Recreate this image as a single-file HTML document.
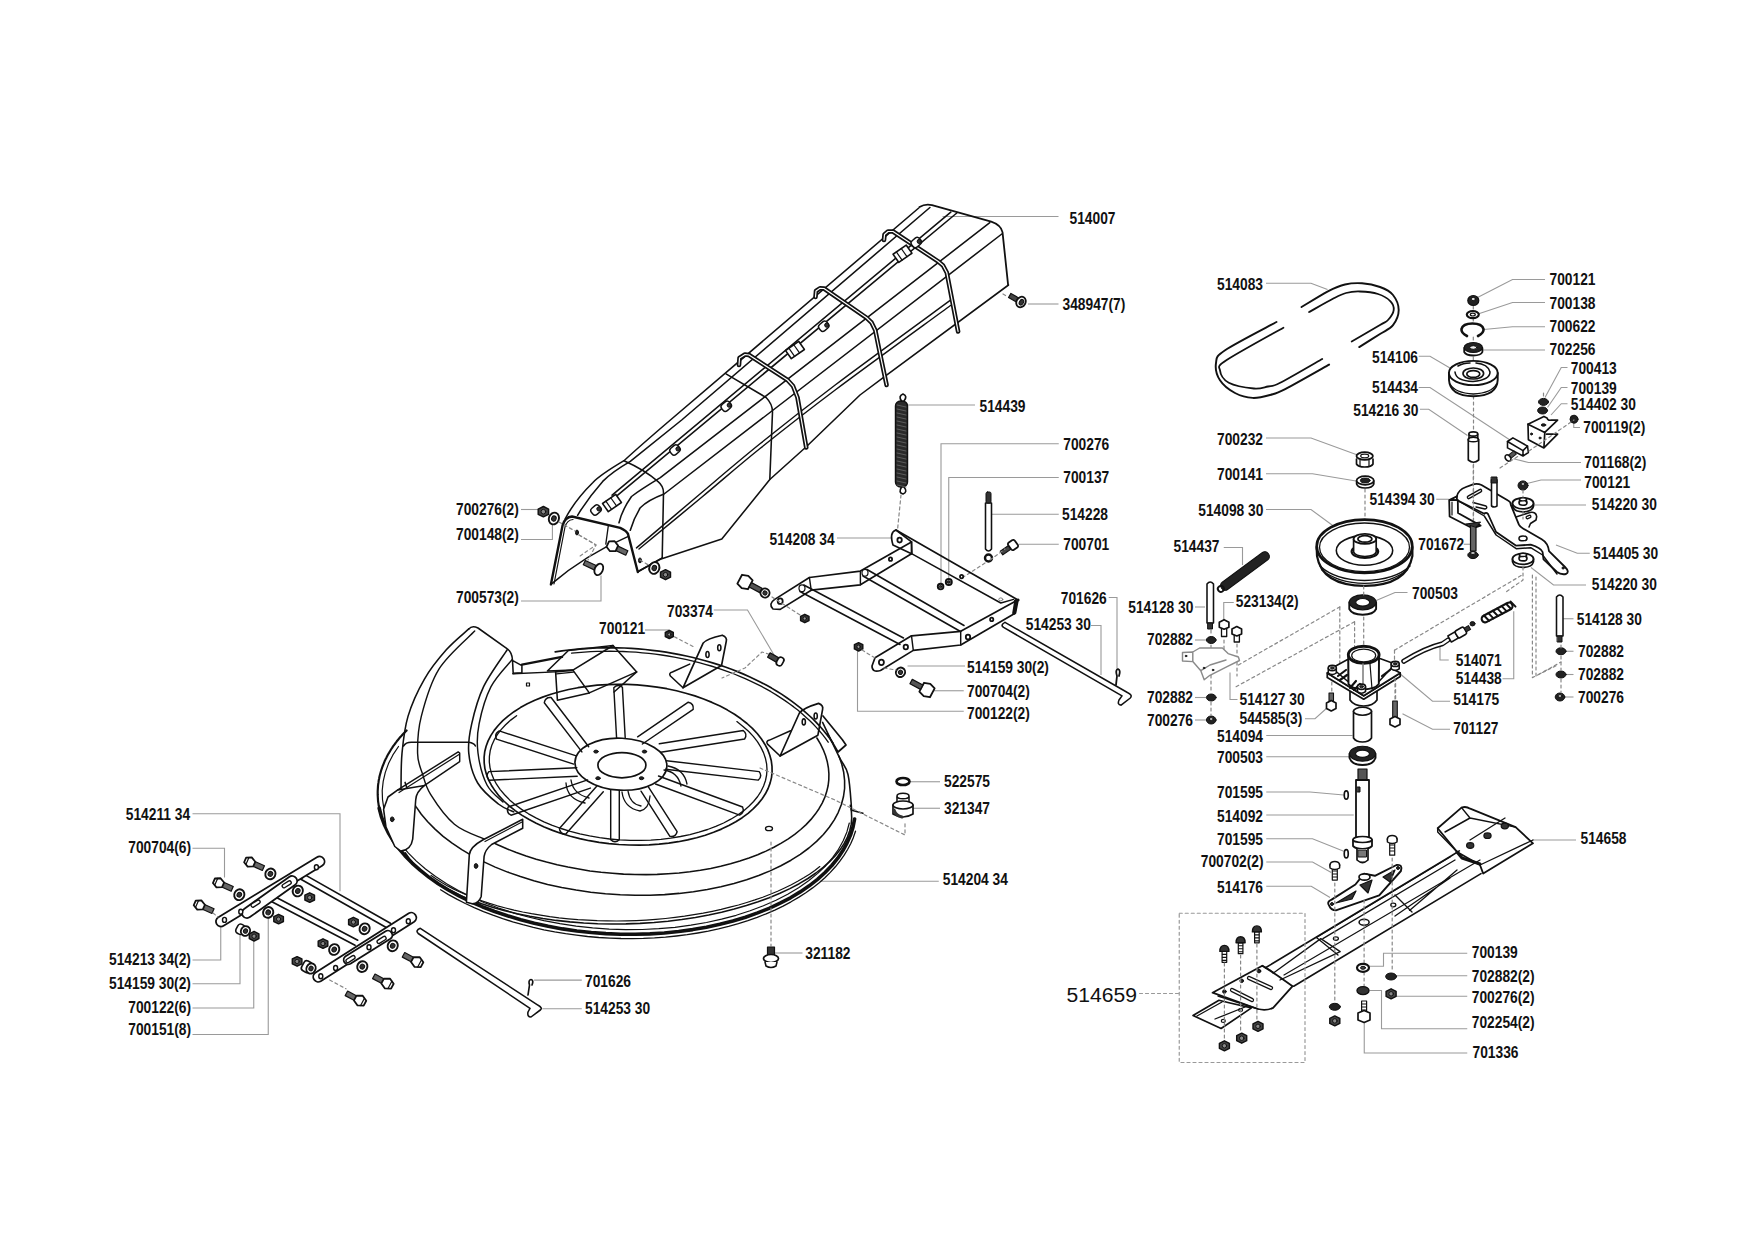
<!DOCTYPE html><html><head><meta charset="utf-8"><style>html,body{margin:0;padding:0;background:#fff;overflow:hidden}svg{display:block}</style></head><body>
<svg width="1755" height="1241" viewBox="0 0 1755 1241">
<rect width="1755" height="1241" fill="#fff"/>
<g fill="none" stroke="#9a9a9a" stroke-width="1.1">
<polyline points="1058.5,216.5 942.5,216.5"/>
<polyline points="1058.5,304 1028,304"/>
<polyline points="975,405 907.5,405"/>
<polyline points="1058.75,443.75 941,443.75 941,587.5"/>
<polyline points="1058.75,477.5 948.75,477.5 948.75,580"/>
<polyline points="1058.75,514.25 991,514.25"/>
<polyline points="1058.75,544.25 1018.75,544.25"/>
<polyline points="837,538 892.5,538"/>
<polyline points="521,509.5 538,509.5"/>
<polyline points="521,539.5 552.4,539.5 552.4,525"/>
<polyline points="521,601 601,601 601,575.4"/>
<polyline points="645,630 669.3,630"/>
<polyline points="713.75,610 747.5,610 776.25,658.75"/>
<polyline points="1108.75,597.5 1117,597.5 1117,670"/>
<polyline points="1091,625.5 1101,625.5 1101,675"/>
<polyline points="965,666 907.5,666"/>
<polyline points="963.75,690.75 933.75,690.75"/>
<polyline points="963.75,711.25 857.5,711.25 857.5,650"/>
<polyline points="940,781.75 910,781.75"/>
<polyline points="940,808.25 911.25,808.25"/>
<polyline points="938.75,881.25 820,881.25"/>
<polyline points="802.5,953 771.25,953"/>
<polyline points="192.5,813.75 340,813.75 340,891.25"/>
<polyline points="192.5,848.25 224.5,848.25 224.5,877.5"/>
<polyline points="192.5,960 220.75,960 220.75,927.5"/>
<polyline points="192.5,983.75 240,983.75 240,935"/>
<polyline points="192.5,1008 253.75,1008 253.75,938.75"/>
<polyline points="192.5,1034.5 268.25,1034.5 268.25,917.5"/>
<polyline points="1266,283.25 1311,283.25 1327.5,289.5"/>
<polyline points="1545,279.5 1512.5,279.5 1477.5,297.5"/>
<polyline points="1545,302.5 1512.5,302.5 1478.75,313.75"/>
<polyline points="1545,326.75 1512.5,326.75 1483.75,329.5"/>
<polyline points="1545,350 1482.5,350"/>
<polyline points="1418.75,356.25 1430,356.25 1451.25,368.75"/>
<polyline points="1567.5,367.5 1561.25,367.5 1545,397.5"/>
<polyline points="1567.5,387.5 1561.25,387.5 1547.5,407.5"/>
<polyline points="1567.5,403.75 1561.25,403.75 1551,415"/>
<polyline points="1580,427.5 1573.75,427.5 1573.75,420"/>
<polyline points="1418.75,387.5 1430,387.5 1510,440"/>
<polyline points="1420,409.25 1428.75,409.25 1467.5,435.5"/>
<polyline points="1266,438 1311,438 1357.5,455"/>
<polyline points="1266,473.75 1312.5,473.75 1357.5,481.25"/>
<polyline points="1436.25,499.25 1448.75,499.25"/>
<polyline points="1266,509.5 1311,509.5 1333.75,526.25"/>
<polyline points="1463.75,544.25 1470,544.25"/>
<polyline points="1223.75,547.5 1242.5,547.5 1242.5,565"/>
<polyline points="1581,462.5 1528.5,462.5 1513.5,458.75"/>
<polyline points="1581,480 1541,480 1526,483.75"/>
<polyline points="1586,505 1531,505"/>
<polyline points="1589.75,553.25 1577.25,553.25 1556,545"/>
<polyline points="1586,585 1553.5,585 1531,567.5"/>
<polyline points="1407.5,592.5 1395,592.5 1375,601"/>
<polyline points="1195,607 1205,607"/>
<polyline points="1233.75,602.5 1223.75,602.5 1223.75,620"/>
<polyline points="1573.5,618.75 1562.25,618.75"/>
<polyline points="1195,640 1206.25,640"/>
<polyline points="1573.5,651.25 1564.75,651.25"/>
<polyline points="1573.5,674.5 1564.75,674.5"/>
<polyline points="1573.5,697 1564.75,697"/>
<polyline points="1448.75,660 1440,660 1440,646.25 1435,646.25"/>
<polyline points="1502.5,678.75 1513.75,678.75 1513.75,611.25"/>
<polyline points="1237.5,699.5 1230,699.5 1230,672.5"/>
<polyline points="1450,701.25 1432.5,701.25 1400,673.75"/>
<polyline points="1195,697.5 1206.25,697.5"/>
<polyline points="1195,720 1206.25,720"/>
<polyline points="1305,718.75 1315,718.75 1327.5,707.5"/>
<polyline points="1450,729.25 1432.5,729.25 1402.5,713.75"/>
<polyline points="1266.25,735.5 1352.5,735.5"/>
<polyline points="1266.25,756.75 1350,756.75"/>
<polyline points="1266.25,792 1310,792 1343.75,795"/>
<polyline points="1266.25,815 1353.75,815"/>
<polyline points="1266.25,838.75 1312.5,838.75 1343.75,851.25"/>
<polyline points="1576,840 1532.25,840"/>
<polyline points="1266.25,862 1312.5,862 1331.25,872.5"/>
<polyline points="1266.25,886.25 1311.25,886.25 1330,897.5"/>
<polyline points="1467.25,953.25 1383.5,953.25 1383.5,966.25 1368.5,966.25"/>
<polyline points="1467.25,975.75 1396,975.75"/>
<polyline points="1467.25,996.25 1396,996.25"/>
<polyline points="1467.25,1028.75 1381.5,1028.75 1381.5,990.5 1369.75,990.5"/>
<polyline points="1467.25,1053 1364.25,1053 1364.25,1020"/>
<polyline points="581.8,980.1 534.1,980.1"/>
<polyline points="581.8,1008.8 542.3,1008.8"/>
</g>
<g stroke="#111" stroke-linecap="round" stroke-linejoin="round" fill="none"><path d="M919.5,207.1 Q925,203.5 932,205.1 L991.2,221.6 Q1001,225 1002.5,232.1 L1008.1,284.8" stroke-width="1.80" fill="none" />
<path d="M918.75,208 L670.4,420 Q640,446 624,460.7 Q600,475 592.7,482.7 Q575,500 565.1,519" stroke-width="1.56" fill="none" />
<path d="M929.9,207.5 L681.7,420 L630.3,461.4 Q612,472 602.7,481.4 Q588,498 577.6,515.3" stroke-width="1.56" fill="none" />
<path d="M950.8,212.2 L612.1,495.2" stroke-width="1.56" fill="none" />
<path d="M956.8,213 L617.7,495.2" stroke-width="1.56" fill="none" />
<path d="M989.8,222.7 L660.3,477.7 Q640,490 631.5,496.5 Q622,510 619,522.8" stroke-width="1.56" fill="none" />
<path d="M1001.8,234 L664.1,494 Q648,500 640.3,507.7 Q634,518 630.3,530.3" stroke-width="1.56" fill="none" />
<path d="M1008.5,285 L884.9,376.3 L860,395 L806,447 L769.8,479.5 L721.8,539.1 L660.3,559.2 L637.8,571.7" stroke-width="1.56" fill="none" />
<path d="M950.5,300.2 C931.3,314.3 867.0,361.1 835.2,385 C803.5,408.9 782.5,425.6 760,443.8 C737.5,462.0 720.6,476.6 700,494 C679.4,511.4 647.1,538.9 636.5,547.9" stroke-width="1.44" fill="none" />
<path d="M950.5,305.5 C931.3,319.6 867.0,366.2 835.2,390 C803.5,413.8 782.2,430.7 760,448.5 C737.8,466.3 722.2,480.2 702,497 C681.8,513.8 649.5,540.3 639,549" stroke-width="1.44" fill="none" />
<path d="M624,460.7 Q645,470 657.8,481.4 Q663.5,486 663.5,492.7 L662.2,558" stroke-width="1.56" fill="none" />
<path d="M726,373.8 L766.1,397.5 Q772.5,404 772.5,412 L769.8,479.5" stroke-width="1.56" fill="none" />
<path d="M884,240 L884.5,234.5 L888,231.5 L893,231.5 L938,261.3 L943,265.5 L946.8,272.6 L958.1,331.5" stroke="#111" stroke-width="4.56" fill="none" stroke-linejoin="round"/>
<path d="M884,240 L884.5,234.5 L888,231.5 L893,231.5 L938,261.3 L943,265.5 L946.8,272.6 L958.1,331.5" stroke="#fff" stroke-width="1.20" fill="none" stroke-linejoin="round"/>
<path d="M815.5,297 L816,291 L820,288.3 L824,288.5 L866.6,317.8 L871.5,322.5 L875.3,330.3 L879.1,349.1 L886.6,385" stroke="#111" stroke-width="4.56" fill="none" stroke-linejoin="round"/>
<path d="M815.5,297 L816,291 L820,288.3 L824,288.5 L866.6,317.8 L871.5,322.5 L875.3,330.3 L879.1,349.1 L886.6,385" stroke="#fff" stroke-width="1.20" fill="none" stroke-linejoin="round"/>
<path d="M739,365 L739.5,358 L745,354.5 L749,355 L787.5,380 L793,386 L797.5,397.5 L806.25,447.5" stroke="#111" stroke-width="4.56" fill="none" stroke-linejoin="round"/>
<path d="M739,365 L739.5,358 L745,354.5 L749,355 L787.5,380 L793,386 L797.5,397.5 L806.25,447.5" stroke="#fff" stroke-width="1.20" fill="none" stroke-linejoin="round"/>
<g transform="translate(916.25,242.5) rotate(-40)"><rect x="-5" y="-4" width="10" height="8" rx="3" fill="#fff" stroke="#111" stroke-width="1.44"/><circle cx="3" cy="1" r="2" fill="#333"/></g>
<g transform="translate(823.75,326.25) rotate(-40)"><rect x="-5" y="-4" width="10" height="8" rx="3" fill="#fff" stroke="#111" stroke-width="1.44"/><circle cx="3" cy="1" r="2" fill="#333"/></g>
<g transform="translate(726.25,406.25) rotate(-40)"><rect x="-5" y="-4" width="10" height="8" rx="3" fill="#fff" stroke="#111" stroke-width="1.44"/><circle cx="3" cy="1" r="2" fill="#333"/></g>
<g transform="translate(675,450) rotate(-40)"><rect x="-5" y="-4" width="10" height="8" rx="3" fill="#fff" stroke="#111" stroke-width="1.44"/><circle cx="3" cy="1" r="2" fill="#333"/></g>
<g transform="translate(596,510) rotate(-40)"><rect x="-5" y="-4" width="10" height="8" rx="3" fill="#fff" stroke="#111" stroke-width="1.44"/><circle cx="3" cy="1" r="2" fill="#333"/></g>
<g transform="translate(902.5,253.75) rotate(-35)"><rect x="-8" y="-5" width="16" height="10" fill="#fff" stroke="#111" stroke-width="1.56"/><path d="M-4,-5 L-4,5 M2,-5 L2,5" stroke="#111" stroke-width="1.20"/></g>
<g transform="translate(795,350) rotate(-35)"><rect x="-8" y="-5" width="16" height="10" fill="#fff" stroke="#111" stroke-width="1.56"/><path d="M-4,-5 L-4,5 M2,-5 L2,5" stroke="#111" stroke-width="1.20"/></g>
<g transform="translate(612,503) rotate(-35)"><rect x="-8" y="-5" width="16" height="10" fill="#fff" stroke="#111" stroke-width="1.56"/><path d="M-4,-5 L-4,5 M2,-5 L2,5" stroke="#111" stroke-width="1.20"/></g>
<path d="M550.9,584.4 L562.6,525.3 Q565,517 572,516.5 L620.2,527.8 Q627,531 628,534 L637.8,572" stroke-width="2.40" fill="none" />
<path d="M554,584 L565,527 Q567,520 573,519.5" stroke-width="1.20" fill="none" />
<path d="M550.9,584.4 Q585,555 627.8,536.6" stroke-width="1.56" fill="none" />
<path d="M608.3,525.9 L605.8,544.1" stroke-width="1.32" fill="none" />
<path d="M637.8,571.7 L662.2,557.9" stroke-width="1.56" fill="none" />
<ellipse cx="577" cy="532.5" rx="1.5" ry="2.5" fill="#222"/><ellipse cx="640" cy="560.4" rx="1.5" ry="2.5" fill="#222"/>
<path d="M579,535 L596,545 L588,560" stroke="#888" stroke-width="1.20" stroke-dasharray="3,3" fill="none"/>
<rect x="895.5" y="401" width="12" height="86" rx="5" fill="#2a2a2a" stroke="#111" stroke-width="1.44"/>
<path d="M901.5,401 Q898,396 903,394 Q908,396 904,401" stroke="#111" stroke-width="1.68" fill="none"/>
<path d="M901.5,487 Q898,493 903,494 Q908,492 904,487" stroke="#111" stroke-width="1.68" fill="none"/>
<path d="M897,405 L906,407" stroke="#666" stroke-width="0.84"/>
<path d="M897,409 L906,411" stroke="#666" stroke-width="0.84"/>
<path d="M897,413 L906,415" stroke="#666" stroke-width="0.84"/>
<path d="M897,417 L906,419" stroke="#666" stroke-width="0.84"/>
<path d="M897,421 L906,423" stroke="#666" stroke-width="0.84"/>
<path d="M897,425 L906,427" stroke="#666" stroke-width="0.84"/>
<path d="M897,429 L906,431" stroke="#666" stroke-width="0.84"/>
<path d="M897,433 L906,435" stroke="#666" stroke-width="0.84"/>
<path d="M897,437 L906,439" stroke="#666" stroke-width="0.84"/>
<path d="M897,441 L906,443" stroke="#666" stroke-width="0.84"/>
<path d="M897,445 L906,447" stroke="#666" stroke-width="0.84"/>
<path d="M897,449 L906,451" stroke="#666" stroke-width="0.84"/>
<path d="M897,453 L906,455" stroke="#666" stroke-width="0.84"/>
<path d="M897,457 L906,459" stroke="#666" stroke-width="0.84"/>
<path d="M897,461 L906,463" stroke="#666" stroke-width="0.84"/>
<path d="M897,465 L906,467" stroke="#666" stroke-width="0.84"/>
<path d="M897,469 L906,471" stroke="#666" stroke-width="0.84"/>
<path d="M897,473 L906,475" stroke="#666" stroke-width="0.84"/>
<path d="M897,477 L906,479" stroke="#666" stroke-width="0.84"/>
<path d="M897,481 L906,483" stroke="#666" stroke-width="0.84"/>
<path d="M897,485 L906,487" stroke="#666" stroke-width="0.84"/>
<path d="M901,495 L897.5,530" stroke="#888" stroke-width="1.20" stroke-dasharray="3,3" fill="none"/>
<path d="M985.5,503 L985.5,549 Q988.5,553 991.5,549 L991.5,503 Z" stroke-width="1.56" fill="none" />
<rect x="986" y="492" width="5" height="11" rx="1.5" fill="#333"/>
<circle cx="988.5" cy="558" r="3.5" stroke="#111" stroke-width="2.40" fill="none"/>
<g transform="translate(1013,545) rotate(-35)"><rect x="-14" y="-2.2" width="11" height="4.4" fill="#444" stroke="#111" stroke-width="1.20"/><rect x="-4" y="-4.5" width="8" height="9" rx="2" fill="#fff" stroke="#111" stroke-width="1.80"/></g>
<path d="M990,560 L1005,549" stroke="#888" stroke-width="1.20" stroke-dasharray="3,3" fill="none"/>
<path d="M985,563 L962,578" stroke="#888" stroke-width="1.20" stroke-dasharray="3,3" fill="none"/>
<path d="M896,530 L1018,600 L1015.5,613 L960.7,645 L913.3,650.4 L880.5,670.5 Q872,673 872,666 L875,657.7 L911.5,635.8 L960.7,631.3 L1015.4,601.2" stroke-width="1.68" fill="none" />
<path d="M896,530 Q889,532 893,545 L911.5,553.8 L911.5,541.9 L896,530" stroke-width="1.68" fill="none" />
<path d="M911.5,541.9 L912,553.8 L1000.8,603 L1013.6,599.4" stroke-width="1.44" fill="none" />
<path d="M911.5,541.9 L860.4,571.1 L809.4,577.5 L774.7,599.4 Q768,604 773,609 L780.2,609.4 L811.2,590.2 L860.4,584.8 L911.5,553.8" stroke-width="1.68" fill="none" />
<path d="M860.4,571.1 L860.4,584.8 M809.4,577.5 L811.2,590.2 M911.5,635.8 L913.3,650.4 M960.7,631.3 L960.7,645" stroke-width="1.44" fill="none" />
<path d="M1015.4,601.2 L1018,600" stroke-width="3.00" fill="none" />
<path d="M1016,601 L1014,613" stroke="#111" stroke-width="3.60"/>
<path d="M800,591.5 L900,644.5 M803.8,585 L903.5,638" stroke-width="1.56" fill="none" />
<path d="M863,576 L960.5,631.5 M867,569.5 L964,625.5" stroke-width="1.56" fill="none" />
<ellipse cx="802" cy="588.3" rx="3" ry="3.4" fill="#fff" stroke="#111" stroke-width="1.20"/>
<ellipse cx="865" cy="572.8" rx="3" ry="3.4" fill="#fff" stroke="#111" stroke-width="1.20"/>
<ellipse cx="899.6" cy="540.1" rx="2.2" ry="2.4200000000000004" fill="#fff" stroke="#111" stroke-width="1.80"/>
<ellipse cx="780.2" cy="601.2" rx="2.5" ry="2.75" fill="#fff" stroke="#111" stroke-width="1.80"/>
<ellipse cx="881.4" cy="662.3" rx="2.5" ry="2.75" fill="#fff" stroke="#111" stroke-width="1.80"/>
<ellipse cx="890.5" cy="559.2" rx="1.6" ry="1.7600000000000002" fill="#fff" stroke="#111" stroke-width="1.80"/>
<ellipse cx="991.7" cy="619.4" rx="1.6" ry="1.7600000000000002" fill="#fff" stroke="#111" stroke-width="1.80"/>
<ellipse cx="961.6" cy="576.6" rx="1.6" ry="1.7600000000000002" fill="#fff" stroke="#111" stroke-width="1.80"/>
<ellipse cx="905.8" cy="647" rx="2.2" ry="2.4200000000000004" fill="#fff" stroke="#111" stroke-width="1.80"/>
<ellipse cx="968" cy="637" rx="2.2" ry="2.4200000000000004" fill="#fff" stroke="#111" stroke-width="1.80"/>
<ellipse cx="1000.8" cy="599.4" rx="2" ry="1.5" fill="none" stroke="#777" stroke-width="0.96"/>
<g transform="translate(940.6,586.6) rotate(0)"><ellipse rx="2.8" ry="2.8" fill="#fff" stroke="#111" stroke-width="1.92"/><ellipse rx="1.26" ry="1.26" fill="#333"/></g>
<g transform="translate(948.8,582) rotate(0)"><ellipse rx="3" ry="3" fill="#fff" stroke="#111" stroke-width="1.92"/><ellipse rx="1.35" ry="1.35" fill="#333"/></g>
<g transform="translate(745,582) rotate(28)"><polygon points="-6,-5 0,-7 6,-5 6,5 0,7 -6,5" fill="#fff" stroke="#111" stroke-width="1.80"/><rect x="6" y="-2.5" width="12" height="5" fill="#555" stroke="#111" stroke-width="1.20"/></g>
<g transform="translate(765,593) rotate(28)"><ellipse rx="4.5" ry="4.5" fill="#fff" stroke="#111" stroke-width="1.92"/><ellipse rx="2.025" ry="2.025" fill="#333"/></g>
<g transform="translate(804.8,618.5)"><polygon points="-4.2,-2.1 0,-4.2 4.2,-2.1 4.2,2.1 0,4.2 -4.2,2.1" fill="#333" stroke="#111" stroke-width="1.44"/><circle r="1.6800000000000002" fill="#999"/></g>
<g transform="translate(858.6,646.8)"><polygon points="-4.2,-2.1 0,-4.2 4.2,-2.1 4.2,2.1 0,4.2 -4.2,2.1" fill="#333" stroke="#111" stroke-width="1.44"/><circle r="1.6800000000000002" fill="#999"/></g>
<path d="M772,597 L800,615" stroke="#888" stroke-width="1.20" stroke-dasharray="3,3" fill="none"/>
<path d="M862,650 L875,658" stroke="#888" stroke-width="1.20" stroke-dasharray="3,3" fill="none"/>
<g transform="translate(900.5,672.3) rotate(28)"><ellipse rx="4.5" ry="4.8" fill="#fff" stroke="#111" stroke-width="1.92"/><ellipse rx="2.025" ry="2.16" fill="#333"/></g>
<g transform="translate(927,690) rotate(208)"><polygon points="-6,-5 0,-7 6,-5 6,5 0,7 -6,5" fill="#fff" stroke="#111" stroke-width="1.80"/><rect x="6" y="-2.5" width="12" height="5" fill="#555" stroke="#111" stroke-width="1.20"/></g>
<path d="M884,668 L896,670" stroke="#888" stroke-width="1.20" stroke-dasharray="3,3" fill="none"/>
<path d="M1005,622.4 L1127.4,692.5 Q1133,695 1130.3,698 L1121.1,705.1 Q1117,705 1119,700 L1122,695.9 L1003.6,627.4 Q1000,625 1005,622.4" stroke-width="1.56" fill="none" />
<path d="M1116,684.8 L1117,676 Q1115,670 1118,669 Q1121,670 1119,676" stroke="#111" stroke-width="1.80" fill="none"/>
<path d="M854.6,819 L853,827.1 L850.5,835.1 L847.1,842.9 L842.9,850.6 L837.8,858.2 L831.8,865.5 L825.1,872.5 L817.5,879.3 L809.2,885.8 L800.2,891.9 L790.5,897.8 L780.1,903.2 L769.1,908.3 L757.6,912.9 L745.5,917.2 L732.9,921 L719.8,924.3 L706.4,927.2 L692.7,929.6 L678.6,931.5 L664.3,933 L649.9,933.9 L635.3,934.3 L620.6,934.2 L606,933.6 L591.3,932.5 L576.8,931 L562.4,928.9 L548.2,926.3 L534.3,923.3 L520.7,919.8 L507.4,915.8 L494.6,911.5 L482.2,906.7 L470.3,901.5 L459,895.9 L448.3,890 L438.2,883.7 L428.8,877.1 L420.1,870.2 L412.1,863.1 L404.9,855.7 L398.5,848.1 L392.9,840.4 L388.2,832.5 L384.3,824.5 L381.3,816.3 L379.2,808.2" stroke-width="3.60" fill="none" />
<path d="M380.3,812.8 L379.8,811 L379.4,809.2 L379.1,807.4 L378.7,805.6 L378.5,803.9 L378.2,802.1 L378,800.3 L377.9,798.5 L377.8,796.7 L377.7,794.9 L377.7,793.1 L377.7,791.3 L377.8,789.5 L377.9,787.7 L378,785.9 L378.2,784.1 L378.5,782.4 L378.7,780.6 L379.1,778.8 L379.4,777 L379.8,775.3 L380.3,773.5 L380.8,771.7 L381.3,770 L381.9,768.3 L382.5,766.5 L383.2,764.8 L383.9,763.1 L384.6,761.3 L385.4,759.6 L386.3,757.9 L387.1,756.2 L388,754.5 L389,752.9 L390,751.2 L391,749.5 L392.1,747.9 L393.2,746.2 L394.4,744.6 L395.6,743 L396.8,741.3 L398.1,739.7 L399.4,738.1 L400.8,736.6 L402.2,735 L403.6,733.4 L405.1,731.9 L406.6,730.4" stroke-width="2.16" fill="none" />
<path d="M855.5,831.2 L853.4,837.4 L850.8,843.5 L847.6,849.5 L844,855.4 L839.9,861.2 L835.4,866.8 L830.3,872.4 L824.9,877.7 L818.9,882.9 L812.6,887.9 L805.8,892.8 L798.6,897.4 L791,901.8 L783.1,906.1 L774.8,910.1 L766.1,913.8 L757.2,917.3 L747.9,920.6 L738.4,923.6 L728.6,926.4 L718.5,928.9 L708.3,931.1 L697.8,933 L687.2,934.7 L676.4,936 L665.5,937.1 L654.5,937.9 L643.4,938.4 L632.3,938.6 L621.1,938.5 L609.9,938.1 L598.8,937.5 L587.6,936.5 L576.5,935.2 L565.6,933.7 L554.7,931.9 L543.9,929.8 L533.3,927.4 L522.9,924.7 L512.7,921.8 L502.7,918.6 L492.9,915.2 L483.5,911.6 L474.2,907.6 L465.3,903.5 L456.8,899.2 L448.5,894.6 L440.6,889.8" stroke-width="1.32" fill="none" />
<path d="M849.3,823 L846.9,831.9 L843.2,840.7 L838.5,849.3 L832.6,857.6 L825.7,865.7 L817.7,873.4 L808.6,880.7 L798.6,887.7 L787.7,894.2 L776,900.3 L763.4,905.8 L750.1,910.8 L736.2,915.3 L721.6,919.2 L706.5,922.5 L690.9,925.2 L675,927.3 L658.8,928.7 L642.3,929.5 L625.8,929.6 L609.2,929.1 L592.6,927.9 L576.1,926.1 L559.9,923.7 L543.9,920.7 L528.3,917 L513.2,912.8 L498.5,908 L484.5,902.7 L471.1,896.9 L458.4,890.5 L446.6,883.8 L435.6,876.6 L425.5,869 L416.4,861.1 L408.2,852.9 L401.1,844.4 L395.1,835.7 L390.3,826.8 L386.5,817.8 L383.9,808.7 L382.5,799.6 L382.2,790.5 L383.2,781.4 L385.3,772.4 L388.5,763.6 L392.9,754.9 L398.5,746.5" stroke-width="1.20" fill="none" />
<path d="M822.6,722.4 C825.3,728.1 834.8,747.9 839,756.6 C843.2,765.3 845.9,765.5 848,774.5 C850.1,783.5 851.1,804.3 851.7,810.3" stroke-width="1.56" fill="none" />
<path d="M851.7,810.3 L862.9,813.3" stroke-width="1.56" fill="none" />
<path d="M555.2,651.9 L562,650.9 L568.8,650 L575.6,649.3 L582.5,648.7 L589.4,648.3 L596.4,648 L603.3,647.8 L610.3,647.7 L617.3,647.8 L624.3,648 L631.3,648.4 L638.3,648.9 L645.3,649.5 L652.2,650.3 L659.1,651.1 L666,652.2 L672.8,653.3 L679.6,654.6 L686.3,656 L693,657.5 L699.6,659.2 L706.2,661 L712.6,662.9 L719,664.9 L725.3,667 L731.5,669.3 L737.5,671.6 L743.5,674.1 L749.4,676.7 L755.1,679.4 L760.7,682.2 L766.2,685.1 L771.6,688.1 L776.8,691.2 L781.9,694.4 L786.8,697.7 L791.6,701.1 L796.2,704.6 L800.7,708.1 L805,711.8 L809.1,715.5 L813.1,719.2 L816.9,723.1 L820.5,727 L823.9,731 L827.1,735 L830.2,739.1 L833,743.2" stroke-width="1.68" fill="none" />
<path d="M571.6,653.2 L577.9,652.6 L584.3,652.1 L590.7,651.7 L597.2,651.4 L603.6,651.3 L610.1,651.2 L616.6,651.3 L623,651.5 L629.5,651.8 L636,652.2 L642.4,652.8 L648.9,653.4 L655.3,654.2 L661.6,655 L668,656 L674.3,657.1 L680.6,658.3 L686.8,659.7 L693,661.1 L699.1,662.6 L705.1,664.3 L711.1,666 L717,667.9 L722.8,669.8 L728.5,671.9 L734.2,674 L739.8,676.3 L745.2,678.6 L750.6,681.1 L755.8,683.6 L761,686.2 L766,688.9 L771,691.7 L775.8,694.6 L780.4,697.6 L785,700.6 L789.4,703.7 L793.7,706.9 L797.8,710.1 L801.8,713.5 L805.6,716.9 L809.3,720.3 L812.9,723.8 L816.3,727.4 L819.5,731 L822.6,734.7 L825.5,738.4 L828.2,742.2" stroke-width="1.32" fill="none" />
<path d="M823,716 L842.4,739.7 L846,745 L838,752 L827.5,733.8" stroke-width="1.68" fill="none" />
<path d="M850.3,805.2 L851.4,811.6 L851.7,818 L851.2,824.4 L849.7,830.7 L847.4,837.1 L844.2,843.4 L840.2,849.6 L835.3,855.7 L829.6,861.6 L823.2,867.4 L815.9,873 L807.9,878.5 L799.2,883.7 L789.9,888.6 L779.9,893.3 L769.2,897.7 L758.1,901.8 L746.4,905.6 L734.2,909.1 L721.6,912.3 L708.7,915.1 L695.4,917.5 L681.8,919.5 L668,921.2 L654.1,922.5 L640,923.4 L625.9,923.9 L611.8,924 L597.7,923.7 L583.7,923 L569.9,921.9 L556.2,920.4 L542.9,918.6 L529.8,916.3 L517.2,913.7 L504.9,910.8 L493.1,907.5 L481.8,903.8 L471.1,899.9 L460.9,895.6 L451.4,891 L442.6,886.2 L434.4,881.1 L427,875.8 L420.3,870.3 L414.5,864.6 L409.4,858.7 L405.2,852.7" stroke-width="1.56" fill="none" />
<path d="M819.8,866.6 L814.8,870.4 L809.5,874.2 L803.7,877.8 L797.7,881.3 L791.3,884.8 L784.6,888 L777.6,891.2 L770.3,894.3 L762.7,897.2 L754.9,899.9 L746.8,902.5 L738.5,905 L729.9,907.2 L721.2,909.4 L712.3,911.3 L703.2,913.1 L694,914.7 L684.6,916.2 L675.1,917.4 L665.5,918.5 L655.8,919.4 L646.1,920.1 L636.4,920.6 L626.6,920.9 L616.8,921 L607,920.9 L597.2,920.7 L587.6,920.2 L577.9,919.6 L568.4,918.8 L559,917.8 L549.7,916.6 L540.5,915.2 L531.5,913.7 L522.7,912 L514,910.1 L505.6,908 L497.4,905.8 L489.5,903.4 L481.8,900.8 L474.3,898.1 L467.2,895.3 L460.4,892.3 L453.8,889.1 L447.6,885.9 L441.7,882.5 L436.2,879 L431.1,875.4" stroke-width="1.20" fill="none" />
<path d="M838.9,756.1 L841.8,764.2 L843.7,772.3 L844.6,780.4 L844.6,788.5 L843.5,796.5 L841.4,804.5 L838.3,812.3 L834.3,819.9 L829.3,827.3 L823.4,834.5 L816.6,841.4 L808.9,848 L800.3,854.3 L791,860.2 L780.9,865.7 L770.1,870.9 L758.7,875.5 L746.6,879.8 L734,883.5 L720.9,886.8 L707.3,889.5 L693.4,891.7 L679.1,893.4 L664.6,894.6 L649.9,895.2 L635.1,895.3 L620.3,894.8 L605.4,893.8 L590.7,892.2 L576.1,890.1 L561.7,887.5 L547.6,884.4 L533.8,880.7 L520.4,876.6 L507.6,872.1 L495.2,867.1 L483.4,861.6 L472.3,855.8 L461.8,849.6 L452.1,843.1 L443.1,836.3 L435,829.1 L427.7,821.8 L421.3,814.2 L415.8,806.4 L411.3,798.5 L407.7,790.5 L405.1,782.4" stroke-width="1.56" fill="none" />
<path d="M816.9,738 L820.4,743.9 L823.3,749.8 L825.6,755.8 L827.3,761.8 L828.4,767.8 L828.9,773.9 L828.8,779.8 L828.1,785.8 L826.7,791.6 L824.8,797.4 L822.2,803.1 L819,808.7 L815.3,814.1 L811,819.4 L806.1,824.6 L800.7,829.5 L794.7,834.3 L788.3,838.8 L781.3,843.1 L773.9,847.2 L766,851.1 L757.7,854.7 L749,858 L739.9,861 L730.5,863.8 L720.7,866.2 L710.7,868.4 L700.4,870.2 L689.9,871.7 L679.1,873 L668.2,873.8 L657.2,874.4 L646,874.6 L634.8,874.5 L623.5,874.1 L612.3,873.3 L601.1,872.3 L589.9,870.9 L578.8,869.1 L567.9,867.1 L557.1,864.8 L546.5,862.1 L536.2,859.2 L526.1,856 L516.3,852.5 L506.8,848.8 L497.6,844.8 L488.9,840.5" stroke-width="1.56" fill="none" />
<path d="M772.1,772 L771.5,777.6 L770.1,783.1 L768.1,788.5 L765.4,793.8 L762,799 L758,803.9 L753.4,808.7 L748.1,813.3 L742.2,817.7 L735.8,821.8 L728.9,825.6 L721.4,829.1 L713.6,832.3 L705.3,835.2 L696.6,837.7 L687.6,839.9 L678.3,841.7 L668.7,843.1 L659,844.2 L649.1,844.8 L639.1,845.1 L629.1,845 L619,844.5 L609,843.6 L599.1,842.3 L589.3,840.7 L579.7,838.6 L570.4,836.2 L561.3,833.5 L552.6,830.4 L544.2,827 L536.2,823.3 L528.7,819.3 L521.7,815.1 L515.2,810.6 L509.2,805.9 L503.8,801 L499,795.9 L494.9,790.6 L491.4,785.2 L488.5,779.8 L486.4,774.2 L484.9,768.6 L484.2,763 L484.1,757.4 L484.7,751.8 L486.1,746.3 L488.1,740.9 L490.8,735.6 L494.2,730.4 L498.2,725.5 L502.8,720.7 L508.1,716.1 L514,711.7 L520.4,707.6 L527.3,703.8 L534.8,700.3 L542.6,697.1 L550.9,694.2 L559.6,691.7 L568.6,689.5 L577.9,687.7 L587.5,686.3 L597.2,685.2 L607.1,684.6 L617.1,684.3 L627.1,684.4 L637.2,684.9 L647.2,685.8 L657.1,687.1 L666.9,688.7 L676.5,690.8 L685.8,693.2 L694.9,695.9 L703.6,699 L712,702.4 L720,706.1 L727.5,710.1 L734.5,714.3 L741,718.8 L747,723.5 L752.4,728.4 L757.2,733.5 L761.3,738.8 L764.8,744.2 L767.7,749.6 L769.8,755.2 L771.3,760.8 L772,766.4 L772.1,772" stroke-width="1.68" fill="none" />
<path d="M736.9,721.6 L743,726.4 L748.5,731.3 L753.3,736.4 L757.4,741.7 L760.8,747.1 L763.5,752.6 L765.4,758.2 L766.6,763.8 L767,769.4 L766.6,775 L765.5,780.5 L763.6,786 L761,791.3 L757.7,796.5 L753.6,801.5 L748.9,806.3 L743.5,810.9 L737.4,815.2 L730.8,819.2 L723.6,823 L715.8,826.4 L707.6,829.5 L698.9,832.2 L689.9,834.6 L680.5,836.5 L670.8,838.1 L660.9,839.3 L650.8,840.1 L640.6,840.4 L630.3,840.3 L620,839.9 L609.8,839 L599.6,837.6 L589.6,835.9 L579.9,833.8 L570.3,831.4 L561.1,828.5 L552.3,825.3 L543.9,821.8 L535.9,817.9 L528.5,813.8 L521.6,809.4 L515.3,804.7 L509.6,799.9 L504.6,794.8 L500.2,789.6 L496.5,784.2 L493.6,778.7 L491.4,773.2 L490,767.6 L489.3,762 L489.4,756.4 L490.2,750.8 L491.8,745.3 L494.2,739.9 L497.3,734.7 L501.1,729.6 L505.6,724.8 L510.7,720.1 L516.6,715.7" stroke-width="1.32" fill="none" />
<ellipse cx="620.9" cy="764.2" rx="46" ry="26" fill="#fff" stroke="#111" stroke-width="1.68" transform="rotate(2.8 620.9 764.2)"/>
<ellipse cx="621.9" cy="765.2" rx="24" ry="12.6" fill="#fff" stroke="#111" stroke-width="1.68"/>
<ellipse cx="596" cy="751.6" rx="2.2" ry="1.5" fill="#222"/>
<ellipse cx="644.5" cy="751.6" rx="2.2" ry="1.5" fill="#222"/>
<ellipse cx="598" cy="778.2" rx="2.2" ry="1.5" fill="#222"/>
<ellipse cx="641.5" cy="778.2" rx="2.2" ry="1.5" fill="#222"/>
<path d="M581.9,751.9 L544.3,702.7 Q545.3,696.9 551.1,697.5 L588.7,746.7" stroke-width="1.44" fill="none" />
<path d="M573.7,764.1 L496.5,739.1 Q494.0,733.7 499.2,730.9 L576.3,755.9" stroke-width="1.44" fill="none" />
<path d="M577.2,776.3 L489.2,780.2 Q485.0,776.1 488.8,771.6 L576.8,767.7" stroke-width="1.44" fill="none" />
<path d="M590.4,788.1 L511.0,815.2 Q505.8,812.4 508.2,807.0 L587.6,779.9" stroke-width="1.44" fill="none" />
<path d="M603.3,791.7 L565.8,834.1 Q559.9,834.3 559.4,828.4 L596.9,786.1" stroke-width="1.44" fill="none" />
<path d="M619.3,790.5 L619.3,839.7 Q615.0,843.7 610.7,839.7 L610.7,790.5" stroke-width="1.44" fill="none" />
<path d="M648.2,786.6 L677.1,831.7 Q675.6,837.4 669.9,836.4 L641.0,791.2" stroke-width="1.44" fill="none" />
<path d="M658.5,776.0 L742.6,807.0 Q744.8,812.5 739.6,815.1 L655.5,784.0" stroke-width="1.44" fill="none" />
<path d="M666.5,760.7 L759.2,771.6 Q762.7,776.3 758.2,780.1 L665.5,769.3" stroke-width="1.44" fill="none" />
<path d="M659.3,743.8 L743.2,730.5 Q747.9,734.1 744.6,739.0 L660.7,752.2" stroke-width="1.44" fill="none" />
<path d="M637.6,736.8 L688.3,702.2 Q694.1,703.5 693.2,709.3 L642.4,744.0" stroke-width="1.44" fill="none" />
<path d="M616.6,738.2 L613.8,687.7 Q617.9,683.5 622.4,687.3 L625.2,737.8" stroke-width="1.44" fill="none" />
<path d="M566,783 Q567,799 585,803 M571,780 Q573,794 589,798 M622,792 Q624,808 640,811 Q649,809 650,796 M628,791 Q630,804 641,806 M668,766 Q684,769 687,784 M664,770 Q678,772 681,786" fill="none" stroke="#111" stroke-width="1.32"/>
<path d="M468.8,628.9 C465.1,632.4 453.9,641.2 446.5,649.6 C439.1,658.0 430.7,668.2 424.3,679.3 C417.9,690.4 411.7,704.0 408,716.4 C404.3,728.8 403.2,741.1 402,753.4 C400.8,765.7 401.2,783.9 401,790" stroke-width="1.56" fill="none" />
<path d="M474.7,631.1 C468.8,637.4 448.0,654.7 439.1,668.9 C430.2,683.1 424.9,702.3 421.3,716.4 C417.7,730.5 417.4,743.9 417.6,753.4 C417.8,762.9 420.2,766.7 422.4,773.5 C424.6,780.3 425.3,785.9 430.6,794.4 C435.9,802.9 445.4,816.8 454.4,824.2 C463.3,831.7 479.3,836.6 484.3,839.1" stroke-width="1.44" fill="none" />
<path d="M507.3,649.6 C503.4,655.8 489.5,674.3 483.6,686.7 C477.7,699.1 474.2,712.7 471.7,723.8 C469.2,734.9 467.8,743.5 468.8,753.4 C469.8,763.3 472.8,774.6 477.7,783 C482.6,791.4 492.4,799.2 498.4,804 C504.4,808.8 511.2,810.6 513.8,811.9" stroke-width="1.56" fill="none" />
<path d="M511.8,660 C508.3,664.5 496.4,676.1 491,686.7 C485.6,697.3 481.3,712.8 479.1,723.8 C476.9,734.8 476.7,742.8 478,753 C479.3,763.2 482.8,776.8 487,785 C491.2,793.2 500.3,799.2 503,802" stroke-width="1.44" fill="none" />
<path d="M468.8,628.9 Q472,625 478,628 L507.3,648.9 Q512,652 512.5,660 L513.2,673.4 L521.9,672.8 L521.9,665.6 L511.9,660.1" stroke-width="1.56" fill="none" />
<path d="M521.9,664.6 L562,656.9" stroke-width="2.40" fill="none" />
<path d="M512.8,673.8 L555.6,671.9" stroke-width="1.44" fill="none" />
<rect x="526.5" y="683" width="3" height="3" fill="none" stroke="#111" stroke-width="1.20"/>
<path d="M547.4,671 L568.4,650.5 L613,645.5 L636.7,671.9 L589.3,692.9 L572.9,670.1 Z" stroke-width="1.56" fill="none" />
<path d="M613,645.5 L572.9,670.1 M555.6,671.9 L572.9,670.1 M557.4,700.2 L589.3,692.9 M555.6,671.9 L557.4,700.2 M636.7,671.9 L614,692" stroke-width="1.56" fill="none" />
<path d="M556.5,673.9 L573.5,672.1" stroke-width="1.20" fill="none" />
<path d="M403.5,746 Q406,742 412,742.3 L468.8,742.3 Q474,743 475.4,746" stroke-width="1.56" fill="none" />
<path d="M397.8,789.9 L424.6,785.4 Q416,792 415.7,800 L412.7,839.1 Q411,850 400.8,851 L394.8,846.5 L386,827 L383.6,809.3 L388,797 Z" fill="#fff" stroke="#111" stroke-width="1.56"/>
<path d="M397.8,789.9 L458.2,751.9 L459.7,753 L459.7,761.6 L424.6,785.4" stroke-width="1.44" fill="none" />
<path d="M399,792.5 L459,754.5" stroke-width="1.20" fill="none" />
<ellipse cx="392.2" cy="819.3" rx="1.8" ry="2.4" fill="#222"/>
<path d="M482.7,840 L522.7,819.3 L522.7,828.2 L491.6,844.5 Q485,850 484.1,856.4 L481.2,896.4 Q479,903 472.3,903.8 L466.4,902.3 L469.3,854.9 Q470,847 482.7,840 Z" fill="#fff" stroke="#111" stroke-width="1.56"/>
<path d="M485,841.5 L522,822" stroke-width="1.20" fill="none" />
<ellipse cx="476" cy="866" rx="1.8" ry="2.4" fill="#222"/>
<path d="M683,687.8 L703,643.3 Q707,638.3 722.3,635.2 Q727.3,637.2 726.3,641.2 L721.5,665.6 Z" stroke-width="1.68" fill="none" />
<path d="M683,687.8 L670.4,676 Q668.4,673 672.4,672 L689.7,664.1" stroke-width="1.56" fill="none" />
<ellipse cx="707.5" cy="654.5" rx="1.6" ry="3" fill="#fff" stroke="#111" stroke-width="1.56"/><ellipse cx="719.3" cy="647.8" rx="1.6" ry="3" fill="#fff" stroke="#111" stroke-width="1.56"/>
<path d="M780.1,756 L799.4,713 Q803.4,708 818.6,703.4 Q823.6,705.4 822.6,709.4 L817.9,735.2 Z" stroke-width="1.68" fill="none" />
<path d="M780.1,756 L767.5,744.1 Q765.5,741.1 769.5,740.1 L790.5,730.8" stroke-width="1.56" fill="none" />
<ellipse cx="803.8" cy="721.9" rx="1.6" ry="3" fill="#fff" stroke="#111" stroke-width="1.56"/><ellipse cx="815.7" cy="716" rx="1.6" ry="3" fill="#fff" stroke="#111" stroke-width="1.56"/>
<ellipse cx="769" cy="828.5" rx="3.5" ry="2.2" fill="none" stroke="#111" stroke-width="1.32"/>
<path d="M771,842 L771,946" stroke="#888" stroke-width="1.20" stroke-dasharray="3,3" fill="none"/>
<path d="M760,768 L835,800 L905,835 L905,822" stroke="#888" stroke-width="1.20" stroke-dasharray="3,3" fill="none"/>
<path d="M669,634 L694,647" stroke="#888" stroke-width="1.20" stroke-dasharray="3,3" fill="none"/>
<path d="M775,656 L762,652 L745,668 L722,678" stroke="#888" stroke-width="1.20" stroke-dasharray="3,3" fill="none"/>
<g><rect x="767.5" y="947" width="7" height="9" fill="#333" stroke="#111" stroke-width="1.20"/><ellipse cx="771" cy="958.5" rx="7.5" ry="4" fill="#fff" stroke="#111" stroke-width="1.68"/><path d="M765,962 L766,966 Q771,969 776,966 L777,962" fill="#fff" stroke="#111" stroke-width="1.56"/></g>
<ellipse cx="903" cy="781.5" rx="6.5" ry="3.5" fill="none" stroke="#111" stroke-width="2.64"/>
<g><path d="M897,797 L897,804 M909,797 L909,804" stroke="#111" stroke-width="1.56"/><ellipse cx="903" cy="796" rx="6" ry="2.8" fill="#fff" stroke="#111" stroke-width="1.56"/><path d="M893,805 L893,814 Q903,820 913,814 L913,805" fill="#fff" stroke="#111" stroke-width="1.68"/><ellipse cx="903" cy="805" rx="10" ry="4" fill="#fff" stroke="#111" stroke-width="1.56"/><path d="M894,810 Q896,816 902,817" stroke="#333" stroke-width="3.00"/></g>
<g transform="translate(669.3,634.5)"><polygon points="-4,-2.0 0,-4 4,-2.0 4,2.0 0,4 -4,2.0" fill="#333" stroke="#111" stroke-width="1.44"/><circle r="1.6" fill="#999"/></g>
<g transform="translate(781,662) rotate(30)"><rect x="-14" y="-2.5" width="10" height="5" fill="#444" stroke="#111" stroke-width="1.20"/><rect x="-4" y="-4.5" width="6" height="9" rx="3" fill="#fff" stroke="#111" stroke-width="1.68"/></g>
<path d="M266.151,898.667 L355.051,945.367" stroke-width="1.68" fill="none" />
<path d="M268.849,893.533 L357.749,940.233" stroke-width="1.68" fill="none" />
<ellipse cx="267.5" cy="896.1" rx="3.2" ry="3.2" fill="#fff" stroke="#111" stroke-width="1.56"/>
<path d="M298.67,877.923 L387.57,928.323" stroke-width="1.68" fill="none" />
<path d="M301.53,872.877 L390.43,923.277" stroke-width="1.68" fill="none" />
<ellipse cx="300.1" cy="875.4" rx="3.2" ry="3.2" fill="#fff" stroke="#111" stroke-width="1.56"/>
<path d="M223.6,925.8 L322.1,865.8 A5.0,5.0 0 0 0 316.9,857.2 L218.4,917.2 A5.0,5.0 0 0 0 223.6,925.8 Z" fill="#fff" stroke="#111" stroke-width="1.80"/>
<path d="M249.9,917.1 L294.9,885.1 A5.0,5.0 0 0 0 289.1,876.9 L244.1,908.9 A5.0,5.0 0 0 0 249.9,917.1 Z" fill="#fff" stroke="#111" stroke-width="1.80"/>
<path d="M320.7,981.2 L414.2,921.7 A5.0,5.0 0 0 0 408.8,913.3 L315.3,972.8 A5.0,5.0 0 0 0 320.7,981.2 Z" fill="#fff" stroke="#111" stroke-width="1.80"/>
<path d="M350.4,963.8 L390.4,938.8 A4.5,4.5 0 0 0 385.6,931.2 L345.6,956.2 A4.5,4.5 0 0 0 350.4,963.8 Z" fill="#fff" stroke="#111" stroke-width="1.80"/>
<ellipse cx="224.5" cy="919.9" rx="2" ry="2.5" fill="#fff" stroke="#111" stroke-width="1.44"/>
<ellipse cx="316.4" cy="867.2" rx="2" ry="2.5" fill="#fff" stroke="#111" stroke-width="1.44"/>
<ellipse cx="320.8" cy="976.2" rx="2" ry="2.5" fill="#fff" stroke="#111" stroke-width="1.44"/>
<ellipse cx="408.3" cy="921.3" rx="2" ry="2.5" fill="#fff" stroke="#111" stroke-width="1.44"/>
<ellipse cx="240.8" cy="911.7" rx="2" ry="2.5" fill="#fff" stroke="#111" stroke-width="1.44"/>
<ellipse cx="335.6" cy="968" rx="2" ry="2.5" fill="#fff" stroke="#111" stroke-width="1.44"/>
<ellipse cx="369" cy="947.3" rx="2" ry="2.5" fill="#fff" stroke="#111" stroke-width="1.44"/>
<ellipse cx="393.5" cy="930.2" rx="2" ry="2.5" fill="#fff" stroke="#111" stroke-width="1.44"/>
<g transform="translate(286.7,884.3) rotate(-32)"><rect x="-5" y="-1.8" width="10" height="3.6" rx="1.8" fill="#fff" stroke="#111" stroke-width="1.32"/></g>
<g transform="translate(255.6,903.6) rotate(-32)"><rect x="-5" y="-1.8" width="10" height="3.6" rx="1.8" fill="#fff" stroke="#111" stroke-width="1.32"/></g>
<g transform="translate(350.5,959.1) rotate(-32)"><rect x="-5" y="-1.8" width="10" height="3.6" rx="1.8" fill="#fff" stroke="#111" stroke-width="1.32"/></g>
<g transform="translate(381.6,939.9) rotate(-32)"><rect x="-5" y="-1.8" width="10" height="3.6" rx="1.8" fill="#fff" stroke="#111" stroke-width="1.32"/></g>
<g transform="translate(199.3,905) rotate(24)"><rect x="4" y="-2.6" width="11" height="5.2" fill="#666" stroke="#111" stroke-width="1.20"/><polygon points="-5,-2.5 0,-5 5,-2.5 5,2.5 0,5 -5,2.5" fill="#fff" stroke="#111" stroke-width="1.80"/><path d="M-2.5,-3.75 L-2.5,3.75" stroke="#111" stroke-width="1.20"/></g>
<g transform="translate(218.5,882.8) rotate(24)"><rect x="4" y="-2.6" width="11" height="5.2" fill="#666" stroke="#111" stroke-width="1.20"/><polygon points="-5,-2.5 0,-5 5,-2.5 5,2.5 0,5 -5,2.5" fill="#fff" stroke="#111" stroke-width="1.80"/><path d="M-2.5,-3.75 L-2.5,3.75" stroke="#111" stroke-width="1.20"/></g>
<g transform="translate(249.7,862) rotate(24)"><rect x="4" y="-2.6" width="11" height="5.2" fill="#666" stroke="#111" stroke-width="1.20"/><polygon points="-5,-2.5 0,-5 5,-2.5 5,2.5 0,5 -5,2.5" fill="#fff" stroke="#111" stroke-width="1.80"/><path d="M-2.5,-3.75 L-2.5,3.75" stroke="#111" stroke-width="1.20"/></g>
<g transform="translate(239.3,894.7) rotate(28)"><ellipse rx="5" ry="5.5" fill="#fff" stroke="#111" stroke-width="1.92"/><ellipse rx="2.25" ry="2.475" fill="#333"/></g>
<g transform="translate(270.4,873.9) rotate(28)"><ellipse rx="5" ry="5.5" fill="#fff" stroke="#111" stroke-width="1.92"/><ellipse rx="2.25" ry="2.475" fill="#333"/></g>
<g transform="translate(268.2,912.4) rotate(28)"><ellipse rx="5" ry="5.5" fill="#fff" stroke="#111" stroke-width="1.92"/><ellipse rx="2.25" ry="2.475" fill="#333"/></g>
<g transform="translate(297.8,891) rotate(28)"><ellipse rx="5" ry="5.5" fill="#fff" stroke="#111" stroke-width="1.92"/><ellipse rx="2.25" ry="2.475" fill="#333"/></g>
<g transform="translate(364.6,928.8) rotate(28)"><ellipse rx="5" ry="5.5" fill="#fff" stroke="#111" stroke-width="1.92"/><ellipse rx="2.25" ry="2.475" fill="#333"/></g>
<g transform="translate(334.2,949.5) rotate(28)"><ellipse rx="5" ry="5.5" fill="#fff" stroke="#111" stroke-width="1.92"/><ellipse rx="2.25" ry="2.475" fill="#333"/></g>
<g transform="translate(392.7,945.8) rotate(28)"><ellipse rx="5" ry="5.5" fill="#fff" stroke="#111" stroke-width="1.92"/><ellipse rx="2.25" ry="2.475" fill="#333"/></g>
<g transform="translate(362.3,966.6) rotate(28)"><ellipse rx="5" ry="5.5" fill="#fff" stroke="#111" stroke-width="1.92"/><ellipse rx="2.25" ry="2.475" fill="#333"/></g>
<g transform="translate(242.3,930.2) rotate(28)"><rect x="-6" y="-5" width="8" height="10" rx="3" fill="#fff" stroke="#111" stroke-width="1.56"/></g>
<g transform="translate(245.5,931) rotate(28)"><ellipse rx="4.5" ry="5" fill="#fff" stroke="#111" stroke-width="1.92"/><ellipse rx="2.025" ry="2.25" fill="#333"/></g>
<g transform="translate(308.2,967.3) rotate(28)"><rect x="-6" y="-5.5" width="9" height="11" rx="3" fill="#fff" stroke="#111" stroke-width="1.68"/></g>
<g transform="translate(311,968.5) rotate(28)"><ellipse rx="4.5" ry="5.2" fill="#fff" stroke="#111" stroke-width="1.92"/><ellipse rx="2.025" ry="2.3400000000000003" fill="#333"/></g>
<g transform="translate(254.1,936.2)"><polygon points="-4.8,-2.4 0,-4.8 4.8,-2.4 4.8,2.4 0,4.8 -4.8,2.4" fill="#444" stroke="#111" stroke-width="1.44"/><circle r="2.16" fill="#888"/></g>
<g transform="translate(278.6,919.1)"><polygon points="-4.8,-2.4 0,-4.8 4.8,-2.4 4.8,2.4 0,4.8 -4.8,2.4" fill="#444" stroke="#111" stroke-width="1.44"/><circle r="2.16" fill="#888"/></g>
<g transform="translate(309.7,897.6)"><polygon points="-4.8,-2.4 0,-4.8 4.8,-2.4 4.8,2.4 0,4.8 -4.8,2.4" fill="#444" stroke="#111" stroke-width="1.44"/><circle r="2.16" fill="#888"/></g>
<g transform="translate(353.4,922.1)"><polygon points="-4.8,-2.4 0,-4.8 4.8,-2.4 4.8,2.4 0,4.8 -4.8,2.4" fill="#444" stroke="#111" stroke-width="1.44"/><circle r="2.16" fill="#888"/></g>
<g transform="translate(323,943.6)"><polygon points="-4.8,-2.4 0,-4.8 4.8,-2.4 4.8,2.4 0,4.8 -4.8,2.4" fill="#444" stroke="#111" stroke-width="1.44"/><circle r="2.16" fill="#888"/></g>
<g transform="translate(297.1,961.4)"><polygon points="-4.8,-2.4 0,-4.8 4.8,-2.4 4.8,2.4 0,4.8 -4.8,2.4" fill="#444" stroke="#111" stroke-width="1.44"/><circle r="2.16" fill="#888"/></g>
<g transform="translate(417.2,962.1) rotate(208)"><rect x="4.5" y="-2.6" width="11" height="5.2" fill="#666" stroke="#111" stroke-width="1.20"/><polygon points="-5.5,-2.75 0,-5.5 5.5,-2.75 5.5,2.75 0,5.5 -5.5,2.75" fill="#fff" stroke="#111" stroke-width="1.80"/><path d="M-2.75,-4.125 L-2.75,4.125" stroke="#111" stroke-width="1.20"/></g>
<g transform="translate(387.5,983.6) rotate(208)"><rect x="4.5" y="-2.6" width="11" height="5.2" fill="#666" stroke="#111" stroke-width="1.20"/><polygon points="-5.5,-2.75 0,-5.5 5.5,-2.75 5.5,2.75 0,5.5 -5.5,2.75" fill="#fff" stroke="#111" stroke-width="1.80"/><path d="M-2.75,-4.125 L-2.75,4.125" stroke="#111" stroke-width="1.20"/></g>
<g transform="translate(360.1,1000.6) rotate(208)"><rect x="4.5" y="-2.6" width="11" height="5.2" fill="#666" stroke="#111" stroke-width="1.20"/><polygon points="-5.5,-2.75 0,-5.5 5.5,-2.75 5.5,2.75 0,5.5 -5.5,2.75" fill="#fff" stroke="#111" stroke-width="1.80"/><path d="M-2.75,-4.125 L-2.75,4.125" stroke="#111" stroke-width="1.20"/></g>
<path d="M329.7,980 L346,988.8" stroke="#888" stroke-width="1.20" stroke-dasharray="3,3" fill="none"/>
<path d="M213,913 L218,917" stroke="#888" stroke-width="1.20" stroke-dasharray="3,3" fill="none"/>
<path d="M420.3,928.3 L538.2,1005.3 Q543,1008 540.3,1010 L531,1017 Q527,1017 528,1012 L530,1008.3 L418.2,933.5 Q415,930.5 420.3,928.3" stroke-width="1.56" fill="none" />
<path d="M528,995 L529.5,985 Q528,980 531,979.5 Q534,980 532,985" stroke="#111" stroke-width="1.68" fill="none"/>
<path d="M1301.5,307 C1305.9,304.4 1320.7,295.1 1327.9,291.3 C1335.2,287.6 1339.3,285.8 1345,284.5 C1350.7,283.2 1356.2,282.9 1362,283.3 C1367.8,283.7 1374.8,285.1 1380,287 C1385.2,288.9 1389.9,291.1 1393,295 C1396.1,298.9 1398.7,305.1 1398.7,310.1 C1398.7,315.1 1396.1,321.2 1393,325.2 C1389.9,329.2 1385.6,330.4 1380,334 C1374.4,337.6 1362.7,344.9 1359.2,347.1" stroke-width="1.92" fill="none" />
<path d="M1276.5,322 C1267.9,326.7 1235.2,343.4 1225.1,350.2 C1215.0,357.0 1216.8,358.0 1216,363 C1215.2,368.0 1216.8,375.3 1220,380.3 C1223.2,385.3 1229.5,390.1 1235,393 C1240.5,395.9 1246.9,397.6 1252.7,397.9 C1258.5,398.2 1264.6,396.5 1270,395 C1275.4,393.5 1275.4,394.2 1285.2,389.1 C1295.0,384.0 1321.8,368.7 1329.1,364.6" stroke-width="1.92" fill="none" />
<path d="M1309.1,312 C1313.1,309.8 1326.8,302.0 1332.9,298.8 C1339.1,295.6 1341.5,294.2 1346,293 C1350.5,291.8 1354.7,291.3 1360,291.5 C1365.3,291.7 1372.9,292.4 1378,294 C1383.1,295.6 1387.9,298.6 1390.5,301.3 C1393.1,304.0 1394.1,307.0 1393.7,310.1 C1393.3,313.2 1390.3,317.5 1388,320 C1385.7,322.5 1386.0,321.4 1380,325 C1374.0,328.6 1356.4,338.8 1351.7,341.5" stroke-width="1.80" fill="none" />
<path d="M1283.4,327.7 C1273.9,333.1 1236.9,353.2 1226.3,360.3 C1215.7,367.4 1219.6,366.6 1220,370.3 C1220.4,374.1 1223.1,379.8 1228.8,382.8 C1234.5,385.8 1247.4,387.9 1253.9,388.5 C1260.4,389.1 1263.6,387.4 1268,386.5 C1272.4,385.6 1271.2,387.4 1280.2,382.8 C1289.2,378.2 1315.2,363.0 1322.2,359" stroke-width="1.80" fill="none" />
<path d="M1473.3,306 L1473.3,322" stroke="#888" stroke-width="1.20" stroke-dasharray="3,3" fill="none"/>
<path d="M1473.3,337 L1473.3,342" stroke="#888" stroke-width="1.20" stroke-dasharray="3,3" fill="none"/>
<path d="M1473.3,357 L1473.3,362" stroke="#888" stroke-width="1.20" stroke-dasharray="3,3" fill="none"/>
<path d="M1473.5,396 L1473.5,430" stroke="#888" stroke-width="1.20" stroke-dasharray="3,3" fill="none"/>
<path d="M1473.5,464 L1473.5,540" stroke="#888" stroke-width="1.20" stroke-dasharray="3,3" fill="none"/>
<path d="M1365,489 L1365,520" stroke="#888" stroke-width="1.20" stroke-dasharray="3,3" fill="none"/>
<ellipse cx="1473.3" cy="300.5" rx="5.5" ry="5" fill="#222" stroke="#111" stroke-width="1.20"/><ellipse cx="1473.3" cy="299" rx="2.2" ry="1.6" fill="#ddd"/>
<ellipse cx="1472.8" cy="314.6" rx="6" ry="3.6" fill="#fff" stroke="#111" stroke-width="2.16"/><ellipse cx="1472.8" cy="314.6" rx="2.5" ry="1.4" fill="none" stroke="#111" stroke-width="1.20"/>
<path d="M1467,336 Q1461,333 1461.5,329 Q1463,323.5 1472.4,323.5 Q1482,323.5 1483.5,329 Q1484,333 1478,336" fill="none" stroke="#111" stroke-width="2.64"/>
<path d="M1464.2,348 L1464.2,352 Q1466,355.5 1473.3,355.5 Q1481,355.5 1482.4,352 L1482.4,348" fill="#fff" stroke="#111" stroke-width="1.80"/><ellipse cx="1473.3" cy="347.5" rx="9.1" ry="5" fill="#222" stroke="#111" stroke-width="1.20"/><ellipse cx="1473.3" cy="347.5" rx="3.5" ry="1.8" fill="#eee"/>
<path d="M1449,373 L1449,380 Q1450,396 1473.3,396.2 Q1497,396 1497.7,380 L1497.7,373" fill="#fff" stroke="#111" stroke-width="1.92"/>
<path d="M1450,384 Q1455,393 1473.3,394 Q1492,393 1496.5,384" fill="none" stroke="#111" stroke-width="1.44"/>
<ellipse cx="1473.3" cy="373" rx="24.4" ry="12.1" fill="#fff" stroke="#111" stroke-width="1.92"/>
<path d="M1458,366 Q1463,363 1470,363 M1476,363 Q1488,364 1490,372 Q1490,380 1473,381.5 Q1456,381 1455,372" fill="none" stroke="#111" stroke-width="1.56"/>
<ellipse cx="1473.3" cy="373.5" rx="10.3" ry="5.5" fill="#fff" stroke="#111" stroke-width="1.68"/><ellipse cx="1473.3" cy="374" rx="6.5" ry="3.4" fill="#fff" stroke="#111" stroke-width="1.68"/>
<path d="M1468.3,439.7 L1468.3,460 Q1473.5,464.5 1478.7,460 L1478.7,439.7" fill="#fff" stroke="#111" stroke-width="1.68"/><ellipse cx="1473.3" cy="439.5" rx="5.2" ry="2.3" fill="#fff" stroke="#111" stroke-width="1.44"/><path d="M1469,439 L1469,434 M1477.8,439 L1477.8,434" stroke="#111" stroke-width="1.56"/><ellipse cx="1473.3" cy="434" rx="4.4" ry="2.1" fill="#fff" stroke="#111" stroke-width="1.56"/>
<path d="M1507.5,441.5 L1512.9,437.9 L1527.5,446.1 L1523,450.6 Z" fill="#fff" stroke="#111" stroke-width="1.56"/><path d="M1507.5,441.5 L1507.5,447.9 L1523,456 L1528.4,452.5 L1527.5,446.1 M1523,450.6 L1523,456" fill="none" stroke="#111" stroke-width="1.56"/>
<g transform="translate(1508,458) rotate(-38)"><rect x="0" y="-2" width="9" height="4" fill="#555" stroke="#111" stroke-width="0.96"/><ellipse cx="0" cy="0" rx="2.5" ry="3.5" fill="#fff" stroke="#111" stroke-width="1.56"/></g>
<path d="M1528,424.2 L1543.9,416.4 L1547,418 Q1548,421 1551,420 L1557.6,420.1 L1544.8,432.4 Z" fill="#fff" stroke="#111" stroke-width="1.68"/><path d="M1528,424.2 L1528.4,439.7 L1543.9,447.9 L1544.8,432.4 M1543.9,447.9 L1557.6,434.2 L1546.6,434.2" fill="none" stroke="#111" stroke-width="1.68"/>
<ellipse cx="1543.5" cy="425" rx="2.2" ry="1.2" fill="#222"/><circle cx="1531.5" cy="434" r="1" fill="#222"/><circle cx="1540" cy="438" r="1" fill="#222"/>
<ellipse cx="1543.5" cy="401.9" rx="5" ry="3.5" fill="#222"/><ellipse cx="1542.6" cy="410.5" rx="5" ry="3.5" fill="#222"/><circle cx="1574" cy="419.2" r="4" fill="#222"/>
<path d="M1500,468 L1520,455" stroke="#888" stroke-width="1.20" stroke-dasharray="3,3" fill="none"/>
<path d="M1529,451 L1574,420" stroke="#888" stroke-width="1.20" stroke-dasharray="3,3" fill="none"/>
<path d="M1543.5,393 L1543.5,398" stroke="#888" stroke-width="1.20" stroke-dasharray="3,3" fill="none"/>
<path d="M1456.9,496.4 Q1458,490 1466,487 L1472.4,484.6 Q1477,483 1481.5,485 L1508,500.5 Q1511,502 1510.7,504.6 L1518.9,524.7 Q1520,527 1523,528.5 L1541.7,539.3 Q1548,543 1549,551.1 L1565,567 Q1570,572 1566,574 Q1561,575 1557,572 L1543.5,559.3 L1542.6,552 Q1541,548 1530.7,544.7 L1516.2,545.7 L1496.1,532 L1488,514 Q1486,512 1484.3,513.8 L1456.9,500.1 Z" stroke-width="1.80" fill="none" />
<path d="M1516,517 L1530,512.5 Q1536,511.5 1536.7,516.5 L1536,520 L1530.5,523.5 L1529,527" stroke-width="1.56" fill="none" />
<g transform="translate(1528.5,517) rotate(-25)"><rect x="-2.5" y="-1.2" width="5" height="2.4" rx="1.2" fill="none" stroke="#111" stroke-width="1.32"/></g>
<path d="M1457,500 L1484.3,516 L1496.1,535 L1516.2,548.7 L1530.7,547.7 L1542.6,555 L1557,574" stroke-width="1.44" fill="none" />
<g transform="translate(1474.5,494) rotate(-30)"><rect x="-8" y="-1.3" width="16" height="2.6" rx="1.3" fill="none" stroke="#111" stroke-width="1.44"/></g>
<path d="M1473,502.5 L1486,506 Q1488,508 1485,509 L1476,507" stroke-width="1.44" fill="none" />
<ellipse cx="1523" cy="538.4" rx="4" ry="2.4" fill="none" stroke="#111" stroke-width="1.56"/><circle cx="1563.1" cy="568" r="1.1" fill="#222"/>
<path d="M1449.2,500.1 L1449.6,516.5 L1472.4,528.3 L1480.6,525.6 L1458,513 L1457.8,500 Z M1449.2,500.1 L1456.9,496.4" stroke-width="1.80" fill="none" />
<path d="M1452,502 L1452,515" stroke-width="1.20" fill="none" />
<path d="M1491.5,480 L1491.5,506 Q1494.2,508 1497,506 L1497,480 Q1494.2,476 1491.5,480 Z" fill="#fff" stroke="#111" stroke-width="1.56"/><rect x="1491.5" y="477" width="5.5" height="6" fill="#333"/>
<path d="M1512.5,503.3 L1512.5,506.3 Q1514,511.8 1523,511.8 Q1532,511.8 1533.5,506.3 L1533.5,503.3" fill="#fff" stroke="#111" stroke-width="1.68"/><ellipse cx="1523" cy="503.3" rx="10.5" ry="5.5" fill="#fff" stroke="#111" stroke-width="1.80"/><ellipse cx="1523" cy="502.8" rx="4" ry="2.5" fill="#fff" stroke="#111" stroke-width="1.56"/><path d="M1519.5,502.3 L1519.5,499.3 M1526.5,502.3 L1526.5,499.3" stroke="#111" stroke-width="1.44"/><ellipse cx="1523" cy="499.3" rx="3.5" ry="1.6" fill="#fff" stroke="#111" stroke-width="1.44"/>
<path d="M1512.5,558.9 L1512.5,561.9 Q1514,567.4 1523,567.4 Q1532,567.4 1533.5,561.9 L1533.5,558.9" fill="#fff" stroke="#111" stroke-width="1.68"/><ellipse cx="1523" cy="558.9" rx="10.5" ry="5.5" fill="#fff" stroke="#111" stroke-width="1.80"/><ellipse cx="1523" cy="558.4" rx="4" ry="2.5" fill="#fff" stroke="#111" stroke-width="1.56"/><path d="M1519.5,557.9 L1519.5,554.9 M1526.5,557.9 L1526.5,554.9" stroke="#111" stroke-width="1.44"/><ellipse cx="1523" cy="554.9" rx="3.5" ry="1.6" fill="#fff" stroke="#111" stroke-width="1.44"/>
<ellipse cx="1523" cy="485.5" rx="5" ry="4.6" fill="#222"/><ellipse cx="1523" cy="484" rx="2" ry="1.4" fill="#ccc"/>
<path d="M1523,490 L1523,497" stroke="#888" stroke-width="1.20" stroke-dasharray="3,3" fill="none"/>
<path d="M1523,511 L1523,519" stroke="#888" stroke-width="1.20" stroke-dasharray="3,3" fill="none"/>
<path d="M1523,567 L1523,580 L1506,592" stroke="#888" stroke-width="1.20" stroke-dasharray="3,3" fill="none"/>
<g><rect x="1470.5" y="524" width="5.5" height="27" fill="#666" stroke="#111" stroke-width="1.20"/><ellipse cx="1473" cy="555" rx="5.2" ry="3.6" fill="#222"/><ellipse cx="1473" cy="553" rx="2.5" ry="1.5" fill="#ccc"/></g>
<path d="M1466,524 L1480.6,522 L1476,527 Z" fill="#333"/>
<path d="M1473.3,465 L1473.3,520" stroke="#888" stroke-width="1.20" stroke-dasharray="3,3" fill="none"/>
<path d="M1356.5,459 L1356.5,464 Q1358,467 1364.7,467 Q1371.5,467 1373,464 L1373,459" fill="#fff" stroke="#111" stroke-width="1.68"/><ellipse cx="1364.7" cy="456" rx="8.2" ry="3.8" fill="#fff" stroke="#111" stroke-width="1.80"/><ellipse cx="1364.7" cy="456" rx="4" ry="1.8" fill="none" stroke="#111" stroke-width="1.20"/><path d="M1360,460 L1360,466 M1369,460 L1369,466" stroke="#111" stroke-width="1.20"/>
<path d="M1356.6,481 L1356.6,484 Q1358,488 1365.2,488 Q1372.5,488 1373.8,484 L1373.8,481" fill="#fff" stroke="#111" stroke-width="1.68"/><ellipse cx="1365.2" cy="480.5" rx="8.6" ry="4.3" fill="#fff" stroke="#111" stroke-width="1.80"/><ellipse cx="1365.2" cy="480.5" rx="4.8" ry="2.4" fill="#222"/>
<path d="M1316.6,547 L1317,556 Q1322,585.6 1364.5,585.8 Q1407,585.6 1412.4,556 L1412.4,547" fill="#fff" stroke="#111" stroke-width="2.16"/>
<path d="M1320,566 Q1335,580 1364.5,580.5 Q1395,580 1410,566" fill="none" stroke="#111" stroke-width="1.56"/><path d="M1322,570 Q1338,583 1364.5,583.4 Q1391,583 1407,570" fill="none" stroke="#111" stroke-width="1.20"/>
<ellipse cx="1364.5" cy="546.3" rx="47.8" ry="26.7" fill="#fff" stroke="#111" stroke-width="2.64"/><ellipse cx="1364.5" cy="547.3" rx="45" ry="24.3" fill="none" stroke="#111" stroke-width="1.32"/>
<ellipse cx="1364.5" cy="550.4" rx="28.2" ry="14.8" fill="none" stroke="#111" stroke-width="1.56"/>
<ellipse cx="1364.9" cy="551.5" rx="13.3" ry="6.5" fill="#fff" stroke="#111" stroke-width="2.16"/><path d="M1353.6,539 L1353.6,552 Q1355,556 1364.9,556.5 Q1375,556 1376.2,552 L1376.2,539" fill="#fff" stroke="#111" stroke-width="1.68"/><ellipse cx="1364.9" cy="538.9" rx="11.3" ry="5" fill="#fff" stroke="#111" stroke-width="1.80"/><ellipse cx="1364.9" cy="538.9" rx="7" ry="3.3" fill="#fff" stroke="#111" stroke-width="1.80"/>
<path d="M1349.3,602.3 L1349.3,609 Q1352,614.7 1362.7,614.7 Q1373.5,614.7 1376.1,609 L1376.1,602.3" fill="#fff" stroke="#111" stroke-width="1.92"/><ellipse cx="1362.7" cy="602.3" rx="13.4" ry="7.5" fill="#222" stroke="#111" stroke-width="1.20"/><ellipse cx="1362.7" cy="602.3" rx="7" ry="3.8" fill="#fff" stroke="#111" stroke-width="1.20"/>
<path d="M1363.7,586 L1363.7,596" stroke="#888" stroke-width="1.20" stroke-dasharray="3,3" fill="none"/>
<path d="M1363.7,617 L1363.7,646" stroke="#888" stroke-width="1.20" stroke-dasharray="3,3" fill="none"/>
<path d="M1354.6,621.7 L1354.6,650" stroke="#888" stroke-width="1.20" stroke-dasharray="3,3" fill="none"/>
<path d="M1339.8,606.9 L1339.8,662.7" stroke="#888" stroke-width="1.20" stroke-dasharray="3,3" fill="none"/>
<path d="M1236.1,686.7 L1354.6,621.7" stroke="#888" stroke-width="1.20" stroke-dasharray="3,3" fill="none"/>
<path d="M1238.4,665 L1339.8,606.9" stroke="#888" stroke-width="1.20" stroke-dasharray="3,3" fill="none"/>
<path d="M1394.5,650.2 L1522.1,575" stroke="#888" stroke-width="1.20" stroke-dasharray="3,3" fill="none"/>
<path d="M1394.5,650.2 L1394.5,665" stroke="#888" stroke-width="1.20" stroke-dasharray="3,3" fill="none"/>
<path d="M1395.6,677.6 L1395.6,700" stroke="#888" stroke-width="1.20" stroke-dasharray="3,3" fill="none"/>
<path d="M1331.8,682 L1331.8,693" stroke="#888" stroke-width="1.20" stroke-dasharray="3,3" fill="none"/>
<path d="M1532.4,575 L1532.4,677.6 L1557.5,665" stroke="#888" stroke-width="1.20" stroke-dasharray="3,3" fill="none"/>
<path d="M1350,690 L1350,700 Q1354,706 1363.7,706 Q1373,706 1377,700 L1377,690 Z" fill="#fff" stroke="#111" stroke-width="1.68"/>
<path d="M1327.3,673 L1327.3,677.6 L1363.7,699.2 L1400.2,676.4 L1400.2,673 L1363.7,695.8 Z" fill="#fff" stroke="#111" stroke-width="1.80"/>
<path d="M1327.3,673 L1363.7,652.5 L1400.2,673 L1363.7,695.8 Z" fill="#fff" stroke="#111" stroke-width="1.80"/>
<path d="M1332,668 L1348.5,659 L1348.5,682 Z M1395,664 L1378.5,658 L1378.5,682 Z" fill="#fff" stroke="#111" stroke-width="1.56"/>
<path d="M1348.3,655 L1348.5,684 Q1352,689 1363.7,689.5 Q1375,689 1378.8,684 L1379,655" fill="#fff" stroke="#111" stroke-width="1.92"/><ellipse cx="1363.7" cy="654.8" rx="15.4" ry="8.6" fill="#fff" stroke="#111" stroke-width="2.88"/><ellipse cx="1363.7" cy="655.5" rx="12" ry="6.3" fill="none" stroke="#111" stroke-width="1.20"/>
<path d="M1363,664 L1363,689" stroke="#888" stroke-width="1.68"/><path d="M1370,664 L1372,689" stroke="#111" stroke-width="1.20"/>
<path d="M1338,676 L1346,670 M1340,680 L1347,675 M1350,688 L1356,681 M1354,690 L1360,684 M1382,676 L1390,670" stroke="#111" stroke-width="2.16"/>
<path d="M1328.3,668 L1328.3,673 Q1332.3,676 1336.3,673 L1336.3,668" fill="#fff" stroke="#111" stroke-width="1.56"/><ellipse cx="1332.3" cy="668" rx="4" ry="2.6" fill="#fff" stroke="#111" stroke-width="1.68"/><ellipse cx="1332.3" cy="668" rx="1.8" ry="1.1" fill="#333"/>
<path d="M1391.2,663.9 L1391.2,668.9 Q1395.2,671.9 1399.2,668.9 L1399.2,663.9" fill="#fff" stroke="#111" stroke-width="1.56"/><ellipse cx="1395.2" cy="663.9" rx="4" ry="2.6" fill="#fff" stroke="#111" stroke-width="1.68"/><ellipse cx="1395.2" cy="663.9" rx="1.8" ry="1.1" fill="#333"/>
<path d="M1357.5,686.7 L1357.5,691.7 Q1361.5,694.7 1365.5,691.7 L1365.5,686.7" fill="#fff" stroke="#111" stroke-width="1.56"/><ellipse cx="1361.5" cy="686.7" rx="4" ry="2.6" fill="#fff" stroke="#111" stroke-width="1.68"/><ellipse cx="1361.5" cy="686.7" rx="1.8" ry="1.1" fill="#333"/>
<rect x="1329" y="693" width="4.5" height="10" fill="#666" stroke="#111" stroke-width="1.08"/><polygon points="1326.5,703 1331.25,700.5 1336,703 1336,708.5 1331.25,711 1326.5,708.5" fill="#fff" stroke="#111" stroke-width="1.68"/>
<rect x="1392.7" y="701" width="4.6" height="17" fill="#666" stroke="#111" stroke-width="1.08"/><polygon points="1390,719 1395,716.5 1400,719 1400,724.5 1395,727 1390,724.5" fill="#fff" stroke="#111" stroke-width="1.68"/>
<path d="M1395,678 L1395,700" stroke="#888" stroke-width="1.20" stroke-dasharray="3,3" fill="none"/>
<path d="M1353.5,711 L1353.5,738 Q1356,742 1362.5,742 Q1369,742 1371.5,738 L1371.5,711" fill="#fff" stroke="#111" stroke-width="1.68"/><ellipse cx="1362.5" cy="711.25" rx="9" ry="4" fill="#fff" stroke="#111" stroke-width="1.68"/>
<path d="M1349.5,753.75 L1349.5,758 Q1352,765 1362.5,765 Q1373,765 1375.5,758 L1375.5,753.75" fill="#fff" stroke="#111" stroke-width="1.92"/><ellipse cx="1362.5" cy="753.75" rx="13" ry="7.5" fill="#222" stroke="#111" stroke-width="1.20"/><ellipse cx="1362.5" cy="753.75" rx="7" ry="3.6" fill="#fff" stroke="#111" stroke-width="1.20"/>
<rect x="1358" y="769" width="9" height="11" fill="#555" stroke="#111" stroke-width="1.20"/>
<path d="M1356,780 L1356,838 L1369,838 L1369,780 Z" fill="#fff" stroke="#111" stroke-width="1.80"/>
<path d="M1353,840 L1353,846 Q1356,849 1362.5,849 Q1369,849 1372,846 L1372,840 Z" fill="#fff" stroke="#111" stroke-width="1.80"/><ellipse cx="1362.5" cy="839.5" rx="9.5" ry="3" fill="#fff" stroke="#111" stroke-width="1.68"/>
<path d="M1357,849 L1357,860 Q1362.5,865 1368,860 L1368,849" fill="#fff" stroke="#111" stroke-width="1.68"/><rect x="1358.5" y="850" width="8" height="7" fill="#777"/>
<ellipse cx="1346.25" cy="795" rx="2" ry="4.2" fill="#fff" stroke="#111" stroke-width="1.68"/><ellipse cx="1346.25" cy="853.75" rx="2" ry="4.2" fill="#fff" stroke="#111" stroke-width="1.68"/>
<rect x="1357.5" y="787" width="2.5" height="5" fill="#333"/>
<path d="M1403.75,661.25 Q1425,648 1442.5,643.75 L1448,640" stroke-width="5.04" fill="none" />
<path d="M1403.75,661.25 Q1425,648 1442.5,643.75 L1448,640" stroke-width="2.16" fill="none" stroke="#fff"/>
<g transform="translate(1460,633) rotate(-30)"><rect x="-12" y="-3.5" width="8" height="7" fill="#fff" stroke="#111" stroke-width="1.56"/><rect x="-4" y="-4" width="10" height="8" rx="2" fill="#fff" stroke="#111" stroke-width="1.56"/><rect x="6" y="-2.2" width="5" height="4.4" fill="#333"/></g>
<ellipse cx="1472.5" cy="623.75" rx="2.5" ry="2.2" fill="#222"/>
<g transform="translate(1498,612) rotate(-28)"><rect x="-18" y="-3.5" width="34" height="7" rx="3.5" fill="#fff" stroke="#111" stroke-width="2.16"/><path d="M-14,-3.5 L-12,3.5" stroke="#111" stroke-width="1.92"/><path d="M-9,-3.5 L-7,3.5" stroke="#111" stroke-width="1.92"/><path d="M-4,-3.5 L-2,3.5" stroke="#111" stroke-width="1.92"/><path d="M1,-3.5 L3,3.5" stroke="#111" stroke-width="1.92"/><path d="M6,-3.5 L8,3.5" stroke="#111" stroke-width="1.92"/><path d="M11,-3.5 L13,3.5" stroke="#111" stroke-width="1.92"/><path d="M16,-3.5 L18,3.5" stroke="#111" stroke-width="1.92"/></g>
<path d="M1207,584 L1207,623 L1213.5,623 L1213.5,584 Q1210.2,580 1207,584 Z" fill="#fff" stroke="#111" stroke-width="1.56"/><rect x="1208" y="623" width="4.5" height="6" fill="#333"/>
<g transform="translate(1245,571) rotate(-36.5)"><rect x="-29" y="-4.5" width="58" height="9" rx="4" fill="#222"/><circle cx="-30" cy="0" r="3" fill="none" stroke="#111" stroke-width="1.92"/></g>
<rect x="1221.5" y="627.2" width="5.2" height="9.299999999999955" fill="#fff" stroke="#111" stroke-width="1.32"/><polygon points="1219.3,622.2 1224.1,619.7 1228.8999999999999,622.2 1228.8999999999999,627.2 1224.1,629.2 1219.3,627.2" fill="#fff" stroke="#111" stroke-width="1.68"/>
<rect x="1234.2" y="634" width="5.2" height="8" fill="#fff" stroke="#111" stroke-width="1.32"/><polygon points="1232.0,629 1236.8,626.5 1241.6,629 1241.6,634 1236.8,636 1232.0,634" fill="#fff" stroke="#111" stroke-width="1.68"/>
<path d="M1224,640 L1224,668" stroke="#888" stroke-width="1.20" stroke-dasharray="3,3" fill="none"/>
<path d="M1237,644 L1237,676" stroke="#888" stroke-width="1.20" stroke-dasharray="3,3" fill="none"/>
<ellipse cx="1211.25" cy="640" rx="4.8" ry="3.5" fill="#222"/><ellipse cx="1211.25" cy="697.5" rx="4.8" ry="3.5" fill="#222"/>
<ellipse cx="1211.25" cy="720" rx="4.8" ry="4" fill="#222"/><ellipse cx="1211.25" cy="719" rx="2" ry="1.4" fill="#ccc"/>
<path d="M1211,630 L1211,636" stroke="#888" stroke-width="1.20" stroke-dasharray="3,3" fill="none"/>
<path d="M1211,645 L1211,693" stroke="#888" stroke-width="1.20" stroke-dasharray="3,3" fill="none"/>
<path d="M1211,702 L1211,715" stroke="#888" stroke-width="1.20" stroke-dasharray="3,3" fill="none"/>
<path d="M1182.5,652.5 L1192.8,652 L1192.8,661.6 L1182.5,661 Z M1192.8,652 L1199.6,648 L1222.4,648 L1228.1,653.6 L1238.4,657 L1239.5,660.5 L1228.1,666.2 L1209.9,675.3 L1204.2,679.8 L1200.8,670.7 L1192.8,661.6 M1200.8,670.7 L1210,665 L1226,660" fill="#fff" stroke="#8a8a8a" stroke-width="1.44"/>
<circle cx="1186" cy="656" r="0.8" fill="#777"/><circle cx="1204" cy="668" r="0.8" fill="#777"/><circle cx="1213" cy="670" r="0.8" fill="#777"/>
<path d="M1556.5,597 L1556.5,636 L1563,636 L1563,597 Q1559.75,593 1556.5,597 Z" fill="#fff" stroke="#111" stroke-width="1.56"/><rect x="1557.5" y="636" width="4.5" height="6" fill="#333"/>
<ellipse cx="1561" cy="651.25" rx="5" ry="3.5" fill="#222"/><ellipse cx="1561" cy="674.5" rx="5" ry="3.5" fill="#222"/><ellipse cx="1560" cy="697" rx="4.8" ry="4" fill="#222"/><ellipse cx="1560" cy="696" rx="2" ry="1.4" fill="#ccc"/>
<path d="M1561,645 L1561,648" stroke="#888" stroke-width="1.20" stroke-dasharray="3,3" fill="none"/>
<path d="M1561,656 L1561,670" stroke="#888" stroke-width="1.20" stroke-dasharray="3,3" fill="none"/>
<path d="M1561,679 L1561,692" stroke="#888" stroke-width="1.20" stroke-dasharray="3,3" fill="none"/>
<path d="M1536,577 L1536,676 L1561,662" stroke="#888" stroke-width="1.20" stroke-dasharray="3,3" fill="none"/>
<path d="M1265.5,967.8 L1450.7,856.3 L1459.3,850.9" stroke-width="1.68" fill="none" />
<path d="M1293.7,986.2 L1481,873.6" stroke-width="1.68" fill="none" />
<path d="M1316.4,937.5 L1450,857 M1322.9,938.6 L1455,860" stroke-width="1.32" fill="none" />
<path d="M1273.1,973.2 L1320.8,938.6 L1340.2,951.6 L1280,980" stroke-width="1.32" fill="none" />
<path d="M1409.5,910.4 L1457,870 M1395,916 L1450,878" stroke-width="1.32" fill="none" />
<path d="M1316.4,937.5 L1338,955 M1395,895 L1412,912" stroke-width="1.32" fill="none" />
<path d="M1284,975 L1480,860" stroke-width="1.20" fill="none" />
<path d="M1437.7,828.2 L1461.5,807.6 Q1466,806 1470.2,808.7 L1515.6,827.1 L1533,843.3 L1483.2,873.6 L1480,865 L1457.2,852 Z" stroke-width="1.80" fill="none" />
<path d="M1437.7,828.2 L1437.7,832 L1457.2,852 M1461.5,807.6 L1470,818 L1515.6,827.1 M1470,818 L1445,832" stroke-width="1.44" fill="none" />
<path d="M1480,865 L1533,840 M1470,840 L1505,818" stroke-width="1.32" fill="none" />
<ellipse cx="1470.2" cy="845.5" rx="3.6" ry="2.8" fill="#333" stroke="#111" stroke-width="1.20"/>
<ellipse cx="1487.5" cy="835.7" rx="3.6" ry="2.8" fill="#333" stroke="#111" stroke-width="1.20"/>
<ellipse cx="1504.8" cy="826" rx="3.6" ry="2.8" fill="#333" stroke="#111" stroke-width="1.20"/>
<path d="M1457,852 L1462,858 L1480,864" stroke="#111" stroke-width="3.00" fill="none"/>
<path d="M1212.5,992.7 L1262.3,965.7 L1277.4,975.4 L1292.6,986.2 L1273.1,1007.9 Q1266,1011 1258,1009 Z" stroke-width="1.80" fill="none" />
<path d="M1218,996 L1258,1009 M1262.3,965.7 L1273,972" stroke-width="1.44" fill="none" />
<path d="M1232,990 L1252,1000" stroke="#111" stroke-width="4.20" stroke-linecap="round"/><path d="M1232,990 L1252,1000" stroke="#fff" stroke-width="1.80" stroke-linecap="round"/>
<path d="M1249,978 L1271,988" stroke="#111" stroke-width="4.20" stroke-linecap="round"/><path d="M1249,978 L1271,988" stroke="#fff" stroke-width="1.80" stroke-linecap="round"/>
<circle cx="1224.4" cy="991.6" r="1.8" fill="#222"/>
<circle cx="1241.7" cy="980.8" r="1.8" fill="#222"/>
<circle cx="1259" cy="971.1" r="1.8" fill="#222"/>
<path d="M1193,1015.5 L1219,1000.3 L1230,1003 L1251.5,1007.9 L1221.1,1028.5 Z" stroke-width="1.68" fill="none" />
<path d="M1197,1016 L1222,1002 M1215,1019 L1245,1007" stroke-width="1.32" fill="none" />
<ellipse cx="1223.3" cy="1020.9" rx="2" ry="1.5" fill="none" stroke="#111" stroke-width="1.20"/><ellipse cx="1240.6" cy="1010" rx="2" ry="1.5" fill="none" stroke="#111" stroke-width="1.20"/>
<ellipse cx="1364.1" cy="922.3" rx="5" ry="3" fill="none" stroke="#111" stroke-width="1.56"/><ellipse cx="1335.9" cy="938.6" rx="2.5" ry="1.8" fill="none" stroke="#111" stroke-width="1.32"/><ellipse cx="1393.3" cy="905" rx="2.5" ry="1.8" fill="none" stroke="#111" stroke-width="1.32"/>
<path d="M1329.4,906.1 Q1326,902 1331.6,899.6 L1355.4,884.5 L1364.1,873.6 L1374.9,875.8 L1396.5,865 Q1403,864 1400.9,871 L1379.2,895.3 L1335.9,910.4 Q1331,910 1329.4,906.1 Z" fill="#fff" stroke="#111" stroke-width="1.92"/>
<path d="M1336,903 L1356,891 L1352,899 Z M1383,877 L1395,870 L1390,882 Z M1360,885 L1372,880 L1368,893 Z" fill="#333" stroke="#111" stroke-width="1.20"/>
<ellipse cx="1364.5" cy="877" rx="5.5" ry="3.2" fill="#fff" stroke="#111" stroke-width="1.68"/>
<circle cx="1332" cy="904" r="1.5" fill="#222"/><circle cx="1398" cy="868" r="1.5" fill="#222"/>
<rect x="1332.3" y="868" width="5" height="12.100000000000023" fill="#fff" stroke="#111" stroke-width="1.20"/><path d="M1332.8,871 L1336.8,871 M1332.8,874 L1336.8,874 M1332.8,877 L1336.8,877" stroke="#111" stroke-width="1.08"/><ellipse cx="1334.8" cy="865" rx="4.8" ry="3.5" fill="#fff" stroke="#111" stroke-width="1.68"/><path d="M1330.0,865 L1330.0,868 Q1334.8,871 1339.6,868 L1339.6,865" fill="#fff" stroke="#111" stroke-width="1.44"/>
<rect x="1389.7" y="842" width="5" height="13.200000000000045" fill="#fff" stroke="#111" stroke-width="1.20"/><path d="M1390.2,845 L1394.2,845 M1390.2,848 L1394.2,848 M1390.2,851 L1394.2,851" stroke="#111" stroke-width="1.08"/><ellipse cx="1392.2" cy="839" rx="4.8" ry="3.5" fill="#fff" stroke="#111" stroke-width="1.68"/><path d="M1387.4,839 L1387.4,842 Q1392.2,845 1397.0,842 L1397.0,839" fill="#fff" stroke="#111" stroke-width="1.44"/>
<path d="M1334.8,883 L1334.8,1002" stroke="#888" stroke-width="1.20" stroke-dasharray="3,3" fill="none"/>
<path d="M1364.1,900 L1364.1,963" stroke="#888" stroke-width="1.20" stroke-dasharray="3,3" fill="none"/>
<path d="M1392.2,858 L1392.2,972" stroke="#888" stroke-width="1.20" stroke-dasharray="3,3" fill="none"/>
<path d="M1364.1,972 L1364.1,986" stroke="#888" stroke-width="1.20" stroke-dasharray="3,3" fill="none"/>
<ellipse cx="1363" cy="967.8" rx="6" ry="4" fill="#fff" stroke="#111" stroke-width="2.16"/><ellipse cx="1363" cy="967.8" rx="2.5" ry="1.5" fill="#444"/>
<ellipse cx="1391.1" cy="976.5" rx="5.5" ry="3.5" fill="#222"/>
<ellipse cx="1363" cy="990.6" rx="6" ry="4" fill="#333" stroke="#111" stroke-width="1.44"/>
<g transform="translate(1391.1,993.8)"><polygon points="-5,-2.5 0,-5 5,-2.5 5,2.5 0,5 -5,2.5" fill="#444" stroke="#111" stroke-width="1.44"/><circle r="2.25" fill="#888"/></g>
<g transform="translate(1334.8,1020.9)"><polygon points="-5,-2.5 0,-5 5,-2.5 5,2.5 0,5 -5,2.5" fill="#444" stroke="#111" stroke-width="1.44"/><circle r="2.25" fill="#888"/></g>
<ellipse cx="1334.8" cy="1006.8" rx="5.5" ry="3.5" fill="#222"/>
<rect x="1361.6" y="1001" width="5" height="11" fill="#fff" stroke="#111" stroke-width="1.20"/><path d="M1362,1004 L1366,1004 M1362,1007 L1366,1007 M1362,1010 L1366,1010" stroke="#111" stroke-width="1.08"/>
<polygon points="1358,1013 1364.1,1010.5 1370,1013 1370,1020 1364.1,1022.5 1358,1020" fill="#fff" stroke="#111" stroke-width="1.68"/>
<path d="M1139.5,993.5 L1178.5,993.5" stroke="#999" stroke-width="1.20" stroke-dasharray="3,3"/>
<path d="M1179.25,913.25 L1305,913.25 L1305,1062.5 L1179.25,1062.5 Z" fill="none" stroke="#999" stroke-width="1.20" stroke-dasharray="3,3"/>
<rect x="1222.1000000000001" y="951.4" width="4.6" height="10.899999999999977" fill="#fff" stroke="#111" stroke-width="1.20"/><path d="M1222.4,954.4 L1226.4,954.4 M1222.4,957.4 L1226.4,957.4 M1222.4,960.4 L1226.4,960.4" stroke="#111" stroke-width="1.08"/><path d="M1219.9,951.4 Q1219.9,945.4 1224.4,945.4 Q1228.9,945.4 1228.9,951.4 Z" fill="#333" stroke="#111" stroke-width="1.44"/>
<rect x="1238.3" y="942.8" width="4.6" height="10.900000000000091" fill="#fff" stroke="#111" stroke-width="1.20"/><path d="M1238.6,945.8 L1242.6,945.8 M1238.6,948.8 L1242.6,948.8 M1238.6,951.8 L1242.6,951.8" stroke="#111" stroke-width="1.08"/><path d="M1236.1,942.8 Q1236.1,936.8 1240.6,936.8 Q1245.1,936.8 1245.1,942.8 Z" fill="#333" stroke="#111" stroke-width="1.44"/>
<rect x="1254.6000000000001" y="931.9" width="4.6" height="10.899999999999977" fill="#fff" stroke="#111" stroke-width="1.20"/><path d="M1254.9,934.9 L1258.9,934.9 M1254.9,937.9 L1258.9,937.9 M1254.9,940.9 L1258.9,940.9" stroke="#111" stroke-width="1.08"/><path d="M1252.4,931.9 Q1252.4,925.9 1256.9,925.9 Q1261.4,925.9 1261.4,931.9 Z" fill="#333" stroke="#111" stroke-width="1.44"/>
<g transform="translate(1224.4,1045.8)"><polygon points="-5,-2.5 0,-5 5,-2.5 5,2.5 0,5 -5,2.5" fill="#444" stroke="#111" stroke-width="1.44"/><circle r="2.25" fill="#888"/></g>
<g transform="translate(1241.7,1038.2)"><polygon points="-5,-2.5 0,-5 5,-2.5 5,2.5 0,5 -5,2.5" fill="#444" stroke="#111" stroke-width="1.44"/><circle r="2.25" fill="#888"/></g>
<g transform="translate(1258,1026.3)"><polygon points="-5,-2.5 0,-5 5,-2.5 5,2.5 0,5 -5,2.5" fill="#444" stroke="#111" stroke-width="1.44"/><circle r="2.25" fill="#888"/></g>
<path d="M1224.4,963 L1224.4,1040" stroke="#888" stroke-width="1.20" stroke-dasharray="3,3" fill="none"/>
<path d="M1240.6,955 L1240.6,1032" stroke="#888" stroke-width="1.20" stroke-dasharray="3,3" fill="none"/>
<path d="M1256.9,944 L1256.9,1020" stroke="#888" stroke-width="1.20" stroke-dasharray="3,3" fill="none"/>
<g transform="translate(543.4,511.7)"><polygon points="-5.2,-2.6 0,-5.2 5.2,-2.6 5.2,2.6 0,5.2 -5.2,2.6" fill="#444" stroke="#111" stroke-width="1.44"/><circle r="2.3400000000000003" fill="#888"/></g>
<g transform="translate(553.9,518.5) rotate(20)"><ellipse rx="5" ry="6" fill="#fff" stroke="#111" stroke-width="1.92"/><ellipse rx="2.25" ry="2.7" fill="#333"/></g>
<g transform="translate(612.3,546.2) rotate(25)"><rect x="4" y="-2.5" width="12" height="5" fill="#666" stroke="#111" stroke-width="1.20"/><polygon points="-5,-3 0,-5.5 5,-3 5,3 0,5.5 -5,3" fill="#fff" stroke="#111" stroke-width="1.80"/></g>
<g transform="translate(598.8,569.4) rotate(205)"><rect x="4" y="-2.4" width="12" height="4.8" fill="#666" stroke="#111" stroke-width="1.20"/><ellipse cx="0" cy="0" rx="4" ry="6" fill="#fff" stroke="#111" stroke-width="1.80"/></g>
<g transform="translate(654.3,568) rotate(20)"><ellipse rx="5" ry="6" fill="#fff" stroke="#111" stroke-width="1.92"/><ellipse rx="2.25" ry="2.7" fill="#333"/></g>
<g transform="translate(665.5,574.7)"><polygon points="-5,-2.5 0,-5 5,-2.5 5,2.5 0,5 -5,2.5" fill="#444" stroke="#111" stroke-width="1.44"/><circle r="2.25" fill="#888"/></g>
<path d="M559,522 L575,531" stroke="#888" stroke-width="1.20" stroke-dasharray="3,3" fill="none"/>
<path d="M579,535 L596,545 L580,556" stroke="#888" stroke-width="1.20" stroke-dasharray="3,3" fill="none"/>
<path d="M640,560 L650,566" stroke="#888" stroke-width="1.20" stroke-dasharray="3,3" fill="none"/>
<g transform="translate(1021,302) rotate(30)"><rect x="-13" y="-2.4" width="10" height="4.8" fill="#444" stroke="#111" stroke-width="1.20"/><ellipse cx="0" cy="0" rx="4.5" ry="5.5" fill="#fff" stroke="#111" stroke-width="1.80"/><ellipse cx="0.5" cy="0" rx="2" ry="3" fill="#333"/></g>
<path d="M1003,294 L1008,297" stroke="#888" stroke-width="1.20" stroke-dasharray="3,3" fill="none"/></g>
<g font-family="Liberation Sans" font-weight="bold" font-size="16.5" fill="#111">
<text transform="translate(1069.5,224.3) scale(0.836,1)">514007</text>
<text transform="translate(1062.5,310.3) scale(0.836,1)">348947(7)</text>
<text transform="translate(979.5,411.55) scale(0.836,1)">514439</text>
<text transform="translate(1063.25,450.3) scale(0.836,1)">700276</text>
<text transform="translate(1063.25,483.3) scale(0.836,1)">700137</text>
<text transform="translate(1062,520.3) scale(0.836,1)">514228</text>
<text transform="translate(1063.25,550.3) scale(0.836,1)">700701</text>
<text transform="translate(769.5,544.55) scale(0.836,1)">514208 34</text>
<text transform="translate(456,515) scale(0.836,1)">700276(2)</text>
<text transform="translate(456,540.3) scale(0.836,1)">700148(2)</text>
<text transform="translate(456,602.7) scale(0.836,1)">700573(2)</text>
<text transform="translate(599.1,634.2) scale(0.836,1)">700121</text>
<text transform="translate(667,617.05) scale(0.836,1)">703374</text>
<text transform="translate(1060.75,604.05) scale(0.836,1)">701626</text>
<text transform="translate(1025.75,630.3) scale(0.836,1)">514253 30</text>
<text transform="translate(967,672.8) scale(0.836,1)">514159 30(2)</text>
<text transform="translate(967,696.55) scale(0.836,1)">700704(2)</text>
<text transform="translate(967,719.05) scale(0.836,1)">700122(2)</text>
<text transform="translate(944,787.05) scale(0.836,1)">522575</text>
<text transform="translate(944,813.55) scale(0.836,1)">321347</text>
<text transform="translate(942.75,884.55) scale(0.836,1)">514204 34</text>
<text transform="translate(805.25,958.55) scale(0.836,1)">321182</text>
<text transform="translate(125.75,820.3) scale(0.836,1)">514211 34</text>
<text transform="translate(128.25,852.8) scale(0.836,1)">700704(6)</text>
<text transform="translate(109,964.55) scale(0.836,1)">514213 34(2)</text>
<text transform="translate(109,988.55) scale(0.836,1)">514159 30(2)</text>
<text transform="translate(128.25,1012.8) scale(0.836,1)">700122(6)</text>
<text transform="translate(128.25,1035.3) scale(0.836,1)">700151(8)</text>
<text transform="translate(585,986.55) scale(0.836,1)">701626</text>
<text transform="translate(585,1014.05) scale(0.836,1)">514253 30</text>
<text transform="translate(1217,289.55) scale(0.836,1)">514083</text>
<text transform="translate(1549.5,285.3) scale(0.836,1)">700121</text>
<text transform="translate(1549.5,308.55) scale(0.836,1)">700138</text>
<text transform="translate(1549.5,332.05) scale(0.836,1)">700622</text>
<text transform="translate(1549.5,355.3) scale(0.836,1)">702256</text>
<text transform="translate(1372,363.3) scale(0.836,1)">514106</text>
<text transform="translate(1570.75,373.55) scale(0.836,1)">700413</text>
<text transform="translate(1372,393.3) scale(0.836,1)">514434</text>
<text transform="translate(1570.75,394.05) scale(0.836,1)">700139</text>
<text transform="translate(1570.75,410.3) scale(0.836,1)">514402 30</text>
<text transform="translate(1353.25,415.8) scale(0.836,1)">514216 30</text>
<text transform="translate(1583.25,432.8) scale(0.836,1)">700119(2)</text>
<text transform="translate(1217,444.8) scale(0.836,1)">700232</text>
<text transform="translate(1584.25,467.8) scale(0.836,1)">701168(2)</text>
<text transform="translate(1217,480.3) scale(0.836,1)">700141</text>
<text transform="translate(1584.25,488.3) scale(0.836,1)">700121</text>
<text transform="translate(1369.5,505.3) scale(0.836,1)">514394 30</text>
<text transform="translate(1591.75,510.3) scale(0.836,1)">514220 30</text>
<text transform="translate(1198.25,515.8) scale(0.836,1)">514098 30</text>
<text transform="translate(1418.25,549.8) scale(0.836,1)">701672</text>
<text transform="translate(1173.5,552.3) scale(0.836,1)">514437</text>
<text transform="translate(1593,559.05) scale(0.836,1)">514405 30</text>
<text transform="translate(1591.75,590.3) scale(0.836,1)">514220 30</text>
<text transform="translate(1412,599.05) scale(0.836,1)">700503</text>
<text transform="translate(1128.25,612.8) scale(0.836,1)">514128 30</text>
<text transform="translate(1235.75,607.3) scale(0.836,1)">523134(2)</text>
<text transform="translate(1576.75,624.8) scale(0.836,1)">514128 30</text>
<text transform="translate(1147,645.3) scale(0.836,1)">702882</text>
<text transform="translate(1578,656.55) scale(0.836,1)">702882</text>
<text transform="translate(1455.75,665.8) scale(0.836,1)">514071</text>
<text transform="translate(1578,680.3) scale(0.836,1)">702882</text>
<text transform="translate(1455.75,684.05) scale(0.836,1)">514438</text>
<text transform="translate(1239.5,704.8) scale(0.836,1)">514127 30</text>
<text transform="translate(1453.25,704.8) scale(0.836,1)">514175</text>
<text transform="translate(1147,703.3) scale(0.836,1)">702882</text>
<text transform="translate(1578,702.8) scale(0.836,1)">700276</text>
<text transform="translate(1239.5,724.05) scale(0.836,1)">544585(3)</text>
<text transform="translate(1147,725.8) scale(0.836,1)">700276</text>
<text transform="translate(1453.25,734.05) scale(0.836,1)">701127</text>
<text transform="translate(1217,741.55) scale(0.836,1)">514094</text>
<text transform="translate(1217,762.8) scale(0.836,1)">700503</text>
<text transform="translate(1217,797.8) scale(0.836,1)">701595</text>
<text transform="translate(1217,821.55) scale(0.836,1)">514092</text>
<text transform="translate(1217,845.3) scale(0.836,1)">701595</text>
<text transform="translate(1580.5,844.05) scale(0.836,1)">514658</text>
<text transform="translate(1200.75,866.8) scale(0.836,1)">700702(2)</text>
<text transform="translate(1217,892.8) scale(0.836,1)">514176</text>
<text transform="translate(1471.75,958.3) scale(0.836,1)">700139</text>
<text transform="translate(1471.75,981.55) scale(0.836,1)">702882(2)</text>
<text transform="translate(1471.75,1002.8) scale(0.836,1)">700276(2)</text>
<text transform="translate(1471.75,1028.3) scale(0.836,1)">702254(2)</text>
<text transform="translate(1472.5,1058.3) scale(0.836,1)">701336</text>
</g>
<text transform="translate(1066.5,1001.5) scale(1.03,1)" font-family="Liberation Sans" font-size="20.5" fill="#111">514659</text>
</svg></body></html>
